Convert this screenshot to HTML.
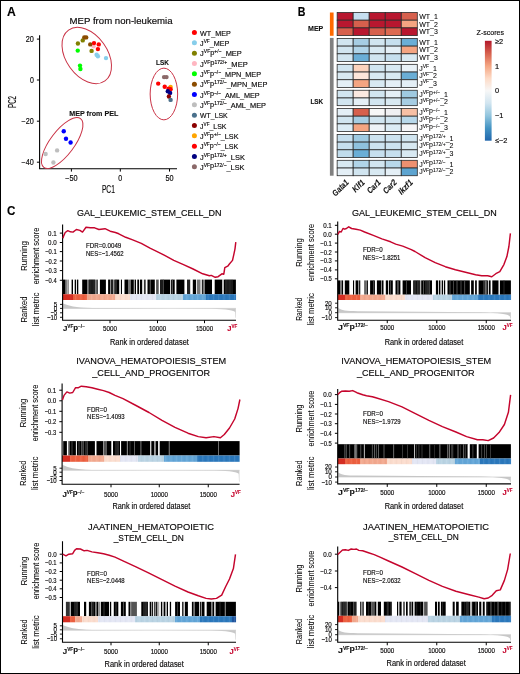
<!DOCTYPE html><html><head><meta charset="utf-8"><style>html,body{margin:0;padding:0;background:#fff;}svg{display:block;will-change:transform;}text{font-family:"Liberation Sans",sans-serif;}</style></head><body><svg width="520" height="674" viewBox="0 0 520 674"><rect x="0.5" y="0.5" width="519" height="673" fill="none" stroke="#000" stroke-width="1"/>
<text x="7.10" y="16.00" font-size="12.2" stroke="#000" stroke-width="0.12" font-weight="bold" fill="#000" textLength="8.80" lengthAdjust="spacingAndGlyphs">A</text>
<text x="69.60" y="24.40" font-size="9.2" stroke="#231f20" stroke-width="0.18" textLength="103.00" lengthAdjust="spacingAndGlyphs">MEP from non-leukemia</text>
<path d="M39.6 35.2 V168.8 H177" fill="none" stroke="#000" stroke-width="1.1"/>
<path d="M36.9 39.1 H39.6" stroke="#000" stroke-width="1"/>
<text x="33.80" y="41.90" font-size="8.2" stroke="#231f20" stroke-width="0.18" text-anchor="end" textLength="8.15" lengthAdjust="spacingAndGlyphs">20</text>
<path d="M36.9 80.0 H39.6" stroke="#000" stroke-width="1"/>
<text x="33.80" y="82.80" font-size="8.2" stroke="#231f20" stroke-width="0.18" text-anchor="end" textLength="3.90" lengthAdjust="spacingAndGlyphs">0</text>
<path d="M36.9 121.2 H39.6" stroke="#000" stroke-width="1"/>
<text x="33.80" y="124.00" font-size="8.2" stroke="#231f20" stroke-width="0.18" text-anchor="end" textLength="12.25" lengthAdjust="spacingAndGlyphs">−20</text>
<path d="M36.9 162.2 H39.6" stroke="#000" stroke-width="1"/>
<text x="33.80" y="165.00" font-size="8.2" stroke="#231f20" stroke-width="0.18" text-anchor="end" textLength="12.25" lengthAdjust="spacingAndGlyphs">−40</text>
<path d="M71.4 168.8 V171.6" stroke="#000" stroke-width="1"/>
<text x="71.40" y="181.30" font-size="8.2" stroke="#231f20" stroke-width="0.18" text-anchor="middle" textLength="12.50" lengthAdjust="spacingAndGlyphs">−50</text>
<path d="M120.3 168.8 V171.6" stroke="#000" stroke-width="1"/>
<text x="120.30" y="181.30" font-size="8.2" stroke="#231f20" stroke-width="0.18" text-anchor="middle" textLength="3.90" lengthAdjust="spacingAndGlyphs">0</text>
<path d="M169.5 168.8 V171.6" stroke="#000" stroke-width="1"/>
<text x="169.50" y="181.30" font-size="8.2" stroke="#231f20" stroke-width="0.18" text-anchor="middle" textLength="8.15" lengthAdjust="spacingAndGlyphs">50</text>
<text x="108.40" y="192.70" font-size="11.0" stroke="#231f20" stroke-width="0.18" text-anchor="middle" textLength="13.00" lengthAdjust="spacingAndGlyphs">PC1</text>
<text x="15.90" y="101.95" font-size="11.0" stroke="#231f20" stroke-width="0.18" text-anchor="middle" textLength="12.00" lengthAdjust="spacingAndGlyphs" transform="rotate(-90 15.90 101.95)">PC2</text>
<ellipse cx="86.75" cy="55.5" rx="31.3" ry="20.6" transform="rotate(54.4 86.75 55.5)" fill="none" stroke="#c93245" stroke-width="1.0"/>
<ellipse cx="62.2" cy="143.0" rx="30.5" ry="12.0" transform="rotate(-53 62.2 143)" fill="none" stroke="#c93245" stroke-width="1.0"/>
<ellipse cx="163.9" cy="94.0" rx="13.75" ry="25.85" fill="none" stroke="#c93245" stroke-width="1.0"/>
<text x="69.30" y="115.80" font-size="7.0" stroke="#111" stroke-width="0.12" font-weight="bold" fill="#111" textLength="49.00" lengthAdjust="spacingAndGlyphs">MEP from PEL</text>
<text x="156.10" y="65.10" font-size="7.0" stroke="#111" stroke-width="0.12" font-weight="bold" fill="#111" textLength="12.80" lengthAdjust="spacingAndGlyphs">LSK</text>
<circle cx="93.6" cy="46.2" r="2.2" fill="#ffb6c1"/>
<circle cx="77.9" cy="43.5" r="2.2" fill="#808000"/>
<circle cx="82.75" cy="40.4" r="2.2" fill="#808000"/>
<circle cx="91.6" cy="50.9" r="2.2" fill="#808000"/>
<circle cx="84.3" cy="37.4" r="2.2" fill="#8b4c00"/>
<circle cx="86.2" cy="37.4" r="2.2" fill="#8b4c00"/>
<circle cx="90.25" cy="44.4" r="2.2" fill="#8b4c00"/>
<circle cx="94.0" cy="43.1" r="2.2" fill="#ff0000"/>
<circle cx="98.75" cy="44.4" r="2.2" fill="#ff0000"/>
<circle cx="97.9" cy="49.1" r="2.2" fill="#ff0000"/>
<circle cx="96.6" cy="54.75" r="2.2" fill="#87ceeb"/>
<circle cx="97.9" cy="56.25" r="2.2" fill="#87ceeb"/>
<circle cx="106.0" cy="58.1" r="2.2" fill="#87ceeb"/>
<circle cx="77.75" cy="50.6" r="2.2" fill="#00ff00"/>
<circle cx="80.0" cy="65.6" r="2.2" fill="#00ff00"/>
<circle cx="80.4" cy="69.0" r="2.2" fill="#00ff00"/>
<circle cx="63.75" cy="131.25" r="2.2" fill="#0000ff"/>
<circle cx="66.0" cy="138.75" r="2.2" fill="#0000ff"/>
<circle cx="70.6" cy="142.5" r="2.2" fill="#0000ff"/>
<circle cx="45.6" cy="154.0" r="2.2" fill="#bebebe"/>
<circle cx="57.1" cy="150.4" r="2.2" fill="#bebebe"/>
<circle cx="53.4" cy="162.5" r="2.2" fill="#bebebe"/>
<circle cx="164.1" cy="77.1" r="2.2" fill="#8b6969"/>
<circle cx="166.5" cy="77.1" r="2.2" fill="#8b6969"/>
<circle cx="158.2" cy="83.6" r="2.2" fill="#ff0000"/>
<circle cx="164.7" cy="86.7" r="2.2" fill="#ff0000"/>
<circle cx="170.6" cy="87.0" r="2.2" fill="#ffa500"/>
<circle cx="168.6" cy="88.7" r="2.2" fill="#ff0000"/>
<circle cx="170.6" cy="89.3" r="2.2" fill="#ff0000"/>
<circle cx="167.8" cy="91.3" r="2.2" fill="#000080"/>
<circle cx="170.1" cy="92.9" r="2.2" fill="#00008b"/>
<circle cx="168.9" cy="96.5" r="2.2" fill="#8b0000"/>
<circle cx="170.6" cy="99.9" r="2.2" fill="#4a708b"/>
<circle cx="194.4" cy="32.50" r="2.5" fill="#ff0000"/>
<text x="200.10" y="35.60" font-size="7.8" stroke="#231f20" stroke-width="0.18" textLength="30.60" lengthAdjust="spacingAndGlyphs">WT_MEP</text>
<circle cx="194.4" cy="42.83" r="2.5" fill="#87ceeb"/>
<text x="200.10" y="45.93" font-size="7.8" stroke="#231f20" stroke-width="0.18" textLength="29.20" lengthAdjust="spacingAndGlyphs">J<tspan dy="-2.9" font-size="5.2">VF</tspan><tspan dy="2.9">_MEP</tspan></text>
<circle cx="194.4" cy="53.16" r="2.5" fill="#808000"/>
<text x="200.10" y="56.26" font-size="7.8" stroke="#231f20" stroke-width="0.18" textLength="41.70" lengthAdjust="spacingAndGlyphs">J<tspan dy="-2.9" font-size="5.2">VF</tspan><tspan dy="1.5">p</tspan><tspan dy="-1.5" font-size="5.2">+/−</tspan><tspan dy="2.9">_MEP</tspan></text>
<circle cx="194.4" cy="63.49" r="2.5" fill="#ffb6c1"/>
<text x="200.10" y="66.59" font-size="7.8" stroke="#231f20" stroke-width="0.18" textLength="47.60" lengthAdjust="spacingAndGlyphs">J<tspan dy="-2.9" font-size="5.2">VF</tspan><tspan dy="1.5">p</tspan><tspan dy="-1.5" font-size="5.2">172/+</tspan><tspan dy="2.9">_MEP</tspan></text>
<circle cx="194.4" cy="73.82" r="2.5" fill="#00ff00"/>
<text x="200.10" y="76.92" font-size="7.8" stroke="#231f20" stroke-width="0.18" textLength="61.00" lengthAdjust="spacingAndGlyphs">J<tspan dy="-2.9" font-size="5.2">VF</tspan><tspan dy="1.5">p</tspan><tspan dy="-1.5" font-size="5.2">−/−</tspan><tspan dy="2.9">_MPN_MEP</tspan></text>
<circle cx="194.4" cy="84.15" r="2.5" fill="#8b4c00"/>
<text x="200.10" y="87.25" font-size="7.8" stroke="#231f20" stroke-width="0.18" textLength="67.30" lengthAdjust="spacingAndGlyphs">J<tspan dy="-2.9" font-size="5.2">VF</tspan><tspan dy="1.5">p</tspan><tspan dy="-1.5" font-size="5.2">172/−</tspan><tspan dy="2.9">_MPN_MEP</tspan></text>
<circle cx="194.4" cy="94.48" r="2.5" fill="#0000ff"/>
<text x="200.10" y="97.58" font-size="7.8" stroke="#231f20" stroke-width="0.18" textLength="59.60" lengthAdjust="spacingAndGlyphs">J<tspan dy="-2.9" font-size="5.2">VF</tspan><tspan dy="1.5">p</tspan><tspan dy="-1.5" font-size="5.2">−/−</tspan><tspan dy="2.9">_AML_MEP</tspan></text>
<circle cx="194.4" cy="104.81" r="2.5" fill="#bebebe"/>
<text x="200.10" y="107.91" font-size="7.8" stroke="#231f20" stroke-width="0.18" textLength="65.90" lengthAdjust="spacingAndGlyphs">J<tspan dy="-2.9" font-size="5.2">VF</tspan><tspan dy="1.5">p</tspan><tspan dy="-1.5" font-size="5.2">172/−</tspan><tspan dy="2.9">_AML_MEP</tspan></text>
<circle cx="194.4" cy="115.14" r="2.5" fill="#4a708b"/>
<text x="200.10" y="118.24" font-size="7.8" stroke="#231f20" stroke-width="0.18" textLength="27.60" lengthAdjust="spacingAndGlyphs">WT_LSK</text>
<circle cx="194.4" cy="125.47" r="2.5" fill="#8b0000"/>
<text x="200.10" y="128.57" font-size="7.8" stroke="#231f20" stroke-width="0.18" textLength="26.30" lengthAdjust="spacingAndGlyphs">J<tspan dy="-2.9" font-size="5.2">VF</tspan><tspan dy="2.9">_LSK</tspan></text>
<circle cx="194.4" cy="135.80" r="2.5" fill="#ffa500"/>
<text x="200.10" y="138.90" font-size="7.8" stroke="#231f20" stroke-width="0.18" textLength="38.40" lengthAdjust="spacingAndGlyphs">J<tspan dy="-2.9" font-size="5.2">VF</tspan><tspan dy="1.5">p</tspan><tspan dy="-1.5" font-size="5.2">+/−</tspan><tspan dy="2.9">_LSK</tspan></text>
<circle cx="194.4" cy="146.13" r="2.5" fill="#ff0000"/>
<text x="200.10" y="149.23" font-size="7.8" stroke="#231f20" stroke-width="0.18" textLength="38.10" lengthAdjust="spacingAndGlyphs">J<tspan dy="-2.9" font-size="5.2">VF</tspan><tspan dy="1.5">p</tspan><tspan dy="-1.5" font-size="5.2">−/−</tspan><tspan dy="2.9">_LSK</tspan></text>
<circle cx="194.4" cy="156.46" r="2.5" fill="#000080"/>
<text x="200.10" y="159.56" font-size="7.8" stroke="#231f20" stroke-width="0.18" textLength="44.80" lengthAdjust="spacingAndGlyphs">J<tspan dy="-2.9" font-size="5.2">VF</tspan><tspan dy="1.5">p</tspan><tspan dy="-1.5" font-size="5.2">172/+</tspan><tspan dy="2.9">_LSK</tspan></text>
<circle cx="194.4" cy="166.79" r="2.5" fill="#8b6969"/>
<text x="200.10" y="169.89" font-size="7.8" stroke="#231f20" stroke-width="0.18" textLength="44.40" lengthAdjust="spacingAndGlyphs">J<tspan dy="-2.9" font-size="5.2">VF</tspan><tspan dy="1.5">p</tspan><tspan dy="-1.5" font-size="5.2">172/−</tspan><tspan dy="2.9">_LSK</tspan></text>
<text x="297.70" y="16.10" font-size="12.4" stroke="#000" stroke-width="0.12" font-weight="bold" fill="#000" textLength="7.70" lengthAdjust="spacingAndGlyphs">B</text>
<rect x="337.15" y="12.50" width="16.03" height="7.70" fill="#b8172f" stroke="#2b2b2b" stroke-width="0.8"/>
<rect x="353.18" y="12.50" width="16.03" height="7.70" fill="#c6dff0" stroke="#2b2b2b" stroke-width="0.8"/>
<rect x="369.21" y="12.50" width="16.03" height="7.70" fill="#b8172f" stroke="#2b2b2b" stroke-width="0.8"/>
<rect x="385.24" y="12.50" width="16.03" height="7.70" fill="#b8172f" stroke="#2b2b2b" stroke-width="0.8"/>
<rect x="401.27" y="12.50" width="16.03" height="7.70" fill="#d6604d" stroke="#2b2b2b" stroke-width="0.8"/>
<text x="419.20" y="18.80" font-size="7.0" stroke="#231f20" stroke-width="0.08">WT_1</text>
<rect x="337.15" y="20.20" width="16.03" height="7.70" fill="#b8172f" stroke="#2b2b2b" stroke-width="0.8"/>
<rect x="353.18" y="20.20" width="16.03" height="7.70" fill="#d6604d" stroke="#2b2b2b" stroke-width="0.8"/>
<rect x="369.21" y="20.20" width="16.03" height="7.70" fill="#b8172f" stroke="#2b2b2b" stroke-width="0.8"/>
<rect x="385.24" y="20.20" width="16.03" height="7.70" fill="#b8172f" stroke="#2b2b2b" stroke-width="0.8"/>
<rect x="401.27" y="20.20" width="16.03" height="7.70" fill="#f4a582" stroke="#2b2b2b" stroke-width="0.8"/>
<text x="419.20" y="26.50" font-size="7.0" stroke="#231f20" stroke-width="0.08">WT_2</text>
<rect x="337.15" y="27.90" width="16.03" height="7.70" fill="#d6604d" stroke="#2b2b2b" stroke-width="0.8"/>
<rect x="353.18" y="27.90" width="16.03" height="7.70" fill="#b8172f" stroke="#2b2b2b" stroke-width="0.8"/>
<rect x="369.21" y="27.90" width="16.03" height="7.70" fill="#d6604d" stroke="#2b2b2b" stroke-width="0.8"/>
<rect x="385.24" y="27.90" width="16.03" height="7.70" fill="#dd6a52" stroke="#2b2b2b" stroke-width="0.8"/>
<rect x="401.27" y="27.90" width="16.03" height="7.70" fill="#b8172f" stroke="#2b2b2b" stroke-width="0.8"/>
<text x="419.20" y="34.20" font-size="7.0" stroke="#231f20" stroke-width="0.08">WT_3</text>
<rect x="337.15" y="38.42" width="16.03" height="7.70" fill="#d1e5f0" stroke="#2b2b2b" stroke-width="0.8"/>
<rect x="353.18" y="38.42" width="16.03" height="7.70" fill="#a6cde3" stroke="#2b2b2b" stroke-width="0.8"/>
<rect x="369.21" y="38.42" width="16.03" height="7.70" fill="#d1e5f0" stroke="#2b2b2b" stroke-width="0.8"/>
<rect x="385.24" y="38.42" width="16.03" height="7.70" fill="#c6dfee" stroke="#2b2b2b" stroke-width="0.8"/>
<rect x="401.27" y="38.42" width="16.03" height="7.70" fill="#6aaed6" stroke="#2b2b2b" stroke-width="0.8"/>
<text x="419.20" y="44.72" font-size="7.0" stroke="#231f20" stroke-width="0.08">WT_1</text>
<rect x="337.15" y="46.12" width="16.03" height="7.70" fill="#d1e5f0" stroke="#2b2b2b" stroke-width="0.8"/>
<rect x="353.18" y="46.12" width="16.03" height="7.70" fill="#b0d4e8" stroke="#2b2b2b" stroke-width="0.8"/>
<rect x="369.21" y="46.12" width="16.03" height="7.70" fill="#d8e9f2" stroke="#2b2b2b" stroke-width="0.8"/>
<rect x="385.24" y="46.12" width="16.03" height="7.70" fill="#e4eff6" stroke="#2b2b2b" stroke-width="0.8"/>
<rect x="401.27" y="46.12" width="16.03" height="7.70" fill="#f4a582" stroke="#2b2b2b" stroke-width="0.8"/>
<text x="419.20" y="52.42" font-size="7.0" stroke="#231f20" stroke-width="0.08">WT_2</text>
<rect x="337.15" y="53.82" width="16.03" height="7.70" fill="#d1e5f0" stroke="#2b2b2b" stroke-width="0.8"/>
<rect x="353.18" y="53.82" width="16.03" height="7.70" fill="#6aaed6" stroke="#2b2b2b" stroke-width="0.8"/>
<rect x="369.21" y="53.82" width="16.03" height="7.70" fill="#d1e5f0" stroke="#2b2b2b" stroke-width="0.8"/>
<rect x="385.24" y="53.82" width="16.03" height="7.70" fill="#c6dfee" stroke="#2b2b2b" stroke-width="0.8"/>
<rect x="401.27" y="53.82" width="16.03" height="7.70" fill="#d8e9f2" stroke="#2b2b2b" stroke-width="0.8"/>
<text x="419.20" y="60.12" font-size="7.0" stroke="#231f20" stroke-width="0.08">WT_3</text>
<rect x="337.15" y="64.34" width="16.03" height="7.70" fill="#d1e5f0" stroke="#2b2b2b" stroke-width="0.8"/>
<rect x="353.18" y="64.34" width="16.03" height="7.70" fill="#fbd3bd" stroke="#2b2b2b" stroke-width="0.8"/>
<rect x="369.21" y="64.34" width="16.03" height="7.70" fill="#d1e5f0" stroke="#2b2b2b" stroke-width="0.8"/>
<rect x="385.24" y="64.34" width="16.03" height="7.70" fill="#d8e9f2" stroke="#2b2b2b" stroke-width="0.8"/>
<rect x="401.27" y="64.34" width="16.03" height="7.70" fill="#e8f1f7" stroke="#2b2b2b" stroke-width="0.8"/>
<text x="419.20" y="70.64" font-size="7.0" stroke="#231f20" stroke-width="0.08">J<tspan dy="-2.6" font-size="5.0">VF</tspan><tspan dy="2.6">_1</tspan></text>
<rect x="337.15" y="72.04" width="16.03" height="7.70" fill="#d8e9f2" stroke="#2b2b2b" stroke-width="0.8"/>
<rect x="353.18" y="72.04" width="16.03" height="7.70" fill="#fde6da" stroke="#2b2b2b" stroke-width="0.8"/>
<rect x="369.21" y="72.04" width="16.03" height="7.70" fill="#d8e9f2" stroke="#2b2b2b" stroke-width="0.8"/>
<rect x="385.24" y="72.04" width="16.03" height="7.70" fill="#d8e9f2" stroke="#2b2b2b" stroke-width="0.8"/>
<rect x="401.27" y="72.04" width="16.03" height="7.70" fill="#6aaed6" stroke="#2b2b2b" stroke-width="0.8"/>
<text x="419.20" y="78.34" font-size="7.0" stroke="#231f20" stroke-width="0.08">J<tspan dy="-2.6" font-size="5.0">VF</tspan><tspan dy="2.6">_2</tspan></text>
<rect x="337.15" y="79.74" width="16.03" height="7.70" fill="#e4eff6" stroke="#2b2b2b" stroke-width="0.8"/>
<rect x="353.18" y="79.74" width="16.03" height="7.70" fill="#f4a582" stroke="#2b2b2b" stroke-width="0.8"/>
<rect x="369.21" y="79.74" width="16.03" height="7.70" fill="#d8e9f2" stroke="#2b2b2b" stroke-width="0.8"/>
<rect x="385.24" y="79.74" width="16.03" height="7.70" fill="#e4eff6" stroke="#2b2b2b" stroke-width="0.8"/>
<rect x="401.27" y="79.74" width="16.03" height="7.70" fill="#e4eff6" stroke="#2b2b2b" stroke-width="0.8"/>
<text x="419.20" y="86.04" font-size="7.0" stroke="#231f20" stroke-width="0.08">J<tspan dy="-2.6" font-size="5.0">VF</tspan><tspan dy="2.6">_3</tspan></text>
<rect x="337.15" y="90.26" width="16.03" height="7.70" fill="#d1e5f0" stroke="#2b2b2b" stroke-width="0.8"/>
<rect x="353.18" y="90.26" width="16.03" height="7.70" fill="#fbe9e1" stroke="#2b2b2b" stroke-width="0.8"/>
<rect x="369.21" y="90.26" width="16.03" height="7.70" fill="#d1e5f0" stroke="#2b2b2b" stroke-width="0.8"/>
<rect x="385.24" y="90.26" width="16.03" height="7.70" fill="#e4eff6" stroke="#2b2b2b" stroke-width="0.8"/>
<rect x="401.27" y="90.26" width="16.03" height="7.70" fill="#9fcae1" stroke="#2b2b2b" stroke-width="0.8"/>
<text x="419.20" y="96.56" font-size="7.0" stroke="#231f20" stroke-width="0.08">J<tspan dy="-2.6" font-size="5.0">VF</tspan><tspan dy="1.3">p</tspan><tspan dy="-1.3" font-size="5.0">+/−</tspan><tspan dy="2.6">_1</tspan></text>
<rect x="337.15" y="97.96" width="16.03" height="7.70" fill="#d1e5f0" stroke="#2b2b2b" stroke-width="0.8"/>
<rect x="353.18" y="97.96" width="16.03" height="7.70" fill="#e4eff6" stroke="#2b2b2b" stroke-width="0.8"/>
<rect x="369.21" y="97.96" width="16.03" height="7.70" fill="#d1e5f0" stroke="#2b2b2b" stroke-width="0.8"/>
<rect x="385.24" y="97.96" width="16.03" height="7.70" fill="#d8e9f2" stroke="#2b2b2b" stroke-width="0.8"/>
<rect x="401.27" y="97.96" width="16.03" height="7.70" fill="#a6cde3" stroke="#2b2b2b" stroke-width="0.8"/>
<text x="419.20" y="104.26" font-size="7.0" stroke="#231f20" stroke-width="0.08">J<tspan dy="-2.6" font-size="5.0">VF</tspan><tspan dy="1.3">p</tspan><tspan dy="-1.3" font-size="5.0">+/−</tspan><tspan dy="2.6">_2</tspan></text>
<rect x="337.15" y="108.48" width="16.03" height="7.70" fill="#e4eff6" stroke="#2b2b2b" stroke-width="0.8"/>
<rect x="353.18" y="108.48" width="16.03" height="7.70" fill="#d6604d" stroke="#2b2b2b" stroke-width="0.8"/>
<rect x="369.21" y="108.48" width="16.03" height="7.70" fill="#f7f7f7" stroke="#2b2b2b" stroke-width="0.8"/>
<rect x="385.24" y="108.48" width="16.03" height="7.70" fill="#f0f0f2" stroke="#2b2b2b" stroke-width="0.8"/>
<rect x="401.27" y="108.48" width="16.03" height="7.70" fill="#f7c0a5" stroke="#2b2b2b" stroke-width="0.8"/>
<text x="419.20" y="114.78" font-size="7.0" stroke="#231f20" stroke-width="0.08">J<tspan dy="-2.6" font-size="5.0">VF</tspan><tspan dy="1.3">p</tspan><tspan dy="-1.3" font-size="5.0">−/−</tspan><tspan dy="2.6">_1</tspan></text>
<rect x="337.15" y="116.18" width="16.03" height="7.70" fill="#d1e5f0" stroke="#2b2b2b" stroke-width="0.8"/>
<rect x="353.18" y="116.18" width="16.03" height="7.70" fill="#a6cde3" stroke="#2b2b2b" stroke-width="0.8"/>
<rect x="369.21" y="116.18" width="16.03" height="7.70" fill="#d1e5f0" stroke="#2b2b2b" stroke-width="0.8"/>
<rect x="385.24" y="116.18" width="16.03" height="7.70" fill="#d1e5f0" stroke="#2b2b2b" stroke-width="0.8"/>
<rect x="401.27" y="116.18" width="16.03" height="7.70" fill="#b8d8ea" stroke="#2b2b2b" stroke-width="0.8"/>
<text x="419.20" y="122.48" font-size="7.0" stroke="#231f20" stroke-width="0.08">J<tspan dy="-2.6" font-size="5.0">VF</tspan><tspan dy="1.3">p</tspan><tspan dy="-1.3" font-size="5.0">−/−</tspan><tspan dy="2.6">_2</tspan></text>
<rect x="337.15" y="123.88" width="16.03" height="7.70" fill="#dcecf5" stroke="#2b2b2b" stroke-width="0.8"/>
<rect x="353.18" y="123.88" width="16.03" height="7.70" fill="#f4a582" stroke="#2b2b2b" stroke-width="0.8"/>
<rect x="369.21" y="123.88" width="16.03" height="7.70" fill="#eef3f7" stroke="#2b2b2b" stroke-width="0.8"/>
<rect x="385.24" y="123.88" width="16.03" height="7.70" fill="#dcecf5" stroke="#2b2b2b" stroke-width="0.8"/>
<rect x="401.27" y="123.88" width="16.03" height="7.70" fill="#f5f5f7" stroke="#2b2b2b" stroke-width="0.8"/>
<text x="419.20" y="130.18" font-size="7.0" stroke="#231f20" stroke-width="0.08">J<tspan dy="-2.6" font-size="5.0">VF</tspan><tspan dy="1.3">p</tspan><tspan dy="-1.3" font-size="5.0">−/−</tspan><tspan dy="2.6">_3</tspan></text>
<rect x="337.15" y="134.40" width="16.03" height="7.70" fill="#c6dfee" stroke="#2b2b2b" stroke-width="0.8"/>
<rect x="353.18" y="134.40" width="16.03" height="7.70" fill="#9fcae1" stroke="#2b2b2b" stroke-width="0.8"/>
<rect x="369.21" y="134.40" width="16.03" height="7.70" fill="#cde3f0" stroke="#2b2b2b" stroke-width="0.8"/>
<rect x="385.24" y="134.40" width="16.03" height="7.70" fill="#cde3f0" stroke="#2b2b2b" stroke-width="0.8"/>
<rect x="401.27" y="134.40" width="16.03" height="7.70" fill="#d1e5f0" stroke="#2b2b2b" stroke-width="0.8"/>
<text x="419.20" y="140.70" font-size="7.0" stroke="#231f20" stroke-width="0.08">J<tspan dy="-2.6" font-size="5.0">VF</tspan><tspan dy="1.3">p</tspan><tspan dy="-1.3" font-size="5.0">172/+</tspan><tspan dy="2.6">_1</tspan></text>
<rect x="337.15" y="142.10" width="16.03" height="7.70" fill="#c6dfee" stroke="#2b2b2b" stroke-width="0.8"/>
<rect x="353.18" y="142.10" width="16.03" height="7.70" fill="#8fc2de" stroke="#2b2b2b" stroke-width="0.8"/>
<rect x="369.21" y="142.10" width="16.03" height="7.70" fill="#cde3f0" stroke="#2b2b2b" stroke-width="0.8"/>
<rect x="385.24" y="142.10" width="16.03" height="7.70" fill="#cde3f0" stroke="#2b2b2b" stroke-width="0.8"/>
<rect x="401.27" y="142.10" width="16.03" height="7.70" fill="#d8e9f2" stroke="#2b2b2b" stroke-width="0.8"/>
<text x="419.20" y="148.40" font-size="7.0" stroke="#231f20" stroke-width="0.08">J<tspan dy="-2.6" font-size="5.0">VF</tspan><tspan dy="1.3">p</tspan><tspan dy="-1.3" font-size="5.0">172/+</tspan><tspan dy="2.6">_2</tspan></text>
<rect x="337.15" y="149.80" width="16.03" height="7.70" fill="#c0dcec" stroke="#2b2b2b" stroke-width="0.8"/>
<rect x="353.18" y="149.80" width="16.03" height="7.70" fill="#6aaed6" stroke="#2b2b2b" stroke-width="0.8"/>
<rect x="369.21" y="149.80" width="16.03" height="7.70" fill="#c6dfee" stroke="#2b2b2b" stroke-width="0.8"/>
<rect x="385.24" y="149.80" width="16.03" height="7.70" fill="#c6dfee" stroke="#2b2b2b" stroke-width="0.8"/>
<rect x="401.27" y="149.80" width="16.03" height="7.70" fill="#d8e9f2" stroke="#2b2b2b" stroke-width="0.8"/>
<text x="419.20" y="156.10" font-size="7.0" stroke="#231f20" stroke-width="0.08">J<tspan dy="-2.6" font-size="5.0">VF</tspan><tspan dy="1.3">p</tspan><tspan dy="-1.3" font-size="5.0">172/+</tspan><tspan dy="2.6">_3</tspan></text>
<rect x="337.15" y="160.32" width="16.03" height="7.70" fill="#d8e9f2" stroke="#2b2b2b" stroke-width="0.8"/>
<rect x="353.18" y="160.32" width="16.03" height="7.70" fill="#b0d4e8" stroke="#2b2b2b" stroke-width="0.8"/>
<rect x="369.21" y="160.32" width="16.03" height="7.70" fill="#d1e5f0" stroke="#2b2b2b" stroke-width="0.8"/>
<rect x="385.24" y="160.32" width="16.03" height="7.70" fill="#b8d8ea" stroke="#2b2b2b" stroke-width="0.8"/>
<rect x="401.27" y="160.32" width="16.03" height="7.70" fill="#ee9070" stroke="#2b2b2b" stroke-width="0.8"/>
<text x="419.20" y="166.62" font-size="7.0" stroke="#231f20" stroke-width="0.08">J<tspan dy="-2.6" font-size="5.0">VF</tspan><tspan dy="1.3">p</tspan><tspan dy="-1.3" font-size="5.0">172/−</tspan><tspan dy="2.6">_1</tspan></text>
<rect x="337.15" y="168.02" width="16.03" height="7.70" fill="#e4eff6" stroke="#2b2b2b" stroke-width="0.8"/>
<rect x="353.18" y="168.02" width="16.03" height="7.70" fill="#d1e5f0" stroke="#2b2b2b" stroke-width="0.8"/>
<rect x="369.21" y="168.02" width="16.03" height="7.70" fill="#d8e9f2" stroke="#2b2b2b" stroke-width="0.8"/>
<rect x="385.24" y="168.02" width="16.03" height="7.70" fill="#e4eff6" stroke="#2b2b2b" stroke-width="0.8"/>
<rect x="401.27" y="168.02" width="16.03" height="7.70" fill="#5da4d0" stroke="#2b2b2b" stroke-width="0.8"/>
<text x="419.20" y="174.32" font-size="7.0" stroke="#231f20" stroke-width="0.08">J<tspan dy="-2.6" font-size="5.0">VF</tspan><tspan dy="1.3">p</tspan><tspan dy="-1.3" font-size="5.0">172/−</tspan><tspan dy="2.6">_2</tspan></text>
<rect x="329.9" y="12.5" width="3.7" height="23.3" fill="#ff6a00"/>
<rect x="329.9" y="37.9" width="3.7" height="137.82" fill="#808080"/>
<text x="308.00" y="30.90" font-size="7.7" stroke="#111" stroke-width="0.12" font-weight="bold" fill="#111" textLength="15.30" lengthAdjust="spacingAndGlyphs">MEP</text>
<text x="310.40" y="104.00" font-size="7.7" stroke="#111" stroke-width="0.12" font-weight="bold" fill="#111" textLength="12.70" lengthAdjust="spacingAndGlyphs">LSK</text>
<text x="349.26" y="183.00" font-size="8.5" stroke="#111" stroke-width="0.12" font-weight="bold" text-anchor="end" fill="#111" textLength="19.30" lengthAdjust="spacingAndGlyphs" font-style="italic" transform="rotate(-45 349.26 183.00)">Gata1</text>
<text x="365.29" y="183.00" font-size="8.5" stroke="#111" stroke-width="0.12" font-weight="bold" text-anchor="end" fill="#111" textLength="13.80" lengthAdjust="spacingAndGlyphs" font-style="italic" transform="rotate(-45 365.29 183.00)">Klf1</text>
<text x="381.32" y="183.00" font-size="8.5" stroke="#111" stroke-width="0.12" font-weight="bold" text-anchor="end" fill="#111" textLength="15.60" lengthAdjust="spacingAndGlyphs" font-style="italic" transform="rotate(-45 381.32 183.00)">Car1</text>
<text x="397.36" y="183.00" font-size="8.5" stroke="#111" stroke-width="0.12" font-weight="bold" text-anchor="end" fill="#111" textLength="15.80" lengthAdjust="spacingAndGlyphs" font-style="italic" transform="rotate(-45 397.36 183.00)">Car2</text>
<text x="413.38" y="183.00" font-size="8.5" stroke="#111" stroke-width="0.12" font-weight="bold" text-anchor="end" fill="#111" textLength="16.90" lengthAdjust="spacingAndGlyphs" font-style="italic" transform="rotate(-45 413.38 183.00)">Ikzf1</text>
<defs><linearGradient id="zs" x1="0" y1="0" x2="0" y2="1"><stop offset="0" stop-color="#b2182b"/><stop offset="0.125" stop-color="#d6604d"/><stop offset="0.25" stop-color="#f4a582"/><stop offset="0.375" stop-color="#fddbc7"/><stop offset="0.5" stop-color="#f7f7f7"/><stop offset="0.625" stop-color="#d1e5f0"/><stop offset="0.75" stop-color="#92c5de"/><stop offset="0.875" stop-color="#4393c3"/><stop offset="1" stop-color="#2166ac"/></linearGradient></defs>
<rect x="484.9" y="40.8" width="6.7" height="99.9" fill="url(#zs)"/>
<text x="490.30" y="34.90" font-size="7.2" stroke="#231f20" stroke-width="0.18" text-anchor="middle" textLength="27.40" lengthAdjust="spacingAndGlyphs">Z-scores</text>
<text x="494.90" y="43.80" font-size="7.4" stroke="#231f20" stroke-width="0.18">≥2</text>
<text x="494.90" y="68.60" font-size="7.4" stroke="#231f20" stroke-width="0.18">1</text>
<text x="494.90" y="93.10" font-size="7.4" stroke="#231f20" stroke-width="0.18">0</text>
<text x="494.90" y="117.80" font-size="7.4" stroke="#231f20" stroke-width="0.18">−1</text>
<text x="494.90" y="142.90" font-size="7.4" stroke="#231f20" stroke-width="0.18">≤−2</text>
<defs><pattern id="cbs" patternUnits="userSpaceOnUse" width="5.3" height="10"><rect x="1.2" width="0.7" height="10" fill="#fff" fill-opacity="0.16"/><rect x="3.6" width="0.6" height="10" fill="#000" fill-opacity="0.04"/></pattern></defs>
<defs><pattern id="bcp" patternUnits="userSpaceOnUse" width="3.7" height="10"><rect width="3.7" height="10" fill="#000"/><rect x="2.2" width="0.6" height="10" fill="#3a3a3a"/></pattern></defs>
<text x="6.90" y="215.30" font-size="12.4" stroke="#000" stroke-width="0.12" font-weight="bold" fill="#000" textLength="8.40" lengthAdjust="spacingAndGlyphs">C</text>
<rect x="62.80" y="279.60" width="2.20" height="14.60" fill="#000"/>
<rect x="65.40" y="279.60" width="1.10" height="14.60" fill="#000"/>
<rect x="67.60" y="279.60" width="0.90" height="14.60" fill="#333"/>
<rect x="71.60" y="279.60" width="1.40" height="14.60" fill="#000"/>
<rect x="74.70" y="279.60" width="1.30" height="14.60" fill="#000"/>
<rect x="76.90" y="279.60" width="1.40" height="14.60" fill="#000"/>
<rect x="82.20" y="279.60" width="5.30" height="14.60" fill="#000"/>
<rect x="88.40" y="279.60" width="7.10" height="14.60" fill="#000"/>
<rect x="96.40" y="279.60" width="1.30" height="14.60" fill="#000"/>
<rect x="99.90" y="279.60" width="6.00" height="14.60" fill="#000"/>
<rect x="108.10" y="279.60" width="2.20" height="14.60" fill="#000"/>
<rect x="110.80" y="279.60" width="2.60" height="14.60" fill="#000"/>
<rect x="114.30" y="279.60" width="4.90" height="14.60" fill="#000"/>
<rect x="120.90" y="279.60" width="1.10" height="14.60" fill="#000"/>
<rect x="124.50" y="279.60" width="3.50" height="14.60" fill="#000"/>
<rect x="128.00" y="279.60" width="2.70" height="14.60" fill="#777"/>
<rect x="130.70" y="279.60" width="3.10" height="14.60" fill="#000"/>
<rect x="134.60" y="279.60" width="1.40" height="14.60" fill="#000"/>
<rect x="137.30" y="279.60" width="1.80" height="14.60" fill="#000"/>
<rect x="140.00" y="279.60" width="2.20" height="14.60" fill="#000"/>
<rect x="143.90" y="279.60" width="1.80" height="14.60" fill="#333"/>
<rect x="147.50" y="279.60" width="2.40" height="14.60" fill="#000"/>
<rect x="150.30" y="279.60" width="4.50" height="14.60" fill="#000"/>
<rect x="156.10" y="279.60" width="2.60" height="14.60" fill="#555"/>
<rect x="160.10" y="279.60" width="10.10" height="14.60" fill="#000"/>
<rect x="171.10" y="279.60" width="3.60" height="14.60" fill="#000"/>
<rect x="176.40" y="279.60" width="8.00" height="14.60" fill="#000"/>
<rect x="187.00" y="279.60" width="3.20" height="14.60" fill="#222"/>
<rect x="192.80" y="279.60" width="3.30" height="14.60" fill="#000"/>
<rect x="197.00" y="279.60" width="3.50" height="14.60" fill="#777"/>
<rect x="201.80" y="279.60" width="1.80" height="14.60" fill="#222"/>
<rect x="204.50" y="279.60" width="7.50" height="14.60" fill="#000"/>
<rect x="214.70" y="279.60" width="7.50" height="14.60" fill="#000"/>
<rect x="222.20" y="279.60" width="1.80" height="14.60" fill="#bbb"/>
<rect x="224.00" y="279.60" width="11.90" height="14.60" fill="#000"/>
<rect x="89.60" y="279.60" width="0.8" height="14.60" fill="#555"/>
<rect x="91.60" y="279.60" width="0.8" height="14.60" fill="#444"/>
<rect x="93.60" y="279.60" width="0.8" height="14.60" fill="#555"/>
<rect x="111.60" y="279.60" width="0.8" height="14.60" fill="#555"/>
<rect x="115.60" y="279.60" width="0.8" height="14.60" fill="#666"/>
<rect x="161.60" y="279.60" width="0.8" height="14.60" fill="#444"/>
<rect x="163.10" y="279.60" width="0.8" height="14.60" fill="#555"/>
<rect x="172.10" y="279.60" width="0.8" height="14.60" fill="#666"/>
<rect x="225.60" y="279.60" width="0.8" height="14.60" fill="#555"/>
<rect x="227.60" y="279.60" width="0.8" height="14.60" fill="#444"/>
<rect x="229.60" y="279.60" width="0.8" height="14.60" fill="#555"/>
<rect x="231.60" y="279.60" width="0.8" height="14.60" fill="#444"/>
<rect x="62.60" y="294.20" width="10.45" height="5.80" fill="#d42d22"/>
<rect x="73.00" y="294.20" width="14.05" height="5.80" fill="#ec5f3f"/>
<rect x="87.00" y="294.20" width="28.05" height="5.80" fill="#f2a88e"/>
<rect x="115.00" y="294.20" width="15.05" height="5.80" fill="#fbdccd"/>
<rect x="130.00" y="294.20" width="26.05" height="5.80" fill="#e3e6f4"/>
<rect x="156.00" y="294.20" width="27.05" height="5.80" fill="#b9d3e3"/>
<rect x="183.00" y="294.20" width="23.05" height="5.80" fill="#62a5d7"/>
<rect x="206.00" y="294.20" width="30.05" height="5.80" fill="#2b78bc"/>
<rect x="70.60" y="294.20" width="165.40" height="5.80" fill="url(#cbs)"/>
<path d="M63.10 308.40 L63.10 303.60 C68.60 305.80 74.60 307.70 92.60 308.10 L211.00 308.70 C228.00 309.20 234.00 310.40 235.10 311.90 L235.40 317.70 L235.80 317.70 L235.80 308.40 Z" fill="#c8c8c8"/>
<path d="M62.60 308.40 H236.00" stroke="#c4c4c4" stroke-width="0.6"/>
<path d="M62.60 224.40 V320.20 H236.00" fill="none" stroke="#000" stroke-width="1.1"/>
<path d="M59.80 233.10 H62.60" stroke="#000" stroke-width="1"/>
<text x="56.70" y="235.60" font-size="7.4" stroke="#231f20" stroke-width="0.18" text-anchor="end" textLength="8.60" lengthAdjust="spacingAndGlyphs">0.1</text>
<path d="M59.80 242.50 H62.60" stroke="#000" stroke-width="1"/>
<text x="56.70" y="245.00" font-size="7.4" stroke="#231f20" stroke-width="0.18" text-anchor="end" textLength="8.60" lengthAdjust="spacingAndGlyphs">0.0</text>
<path d="M59.80 251.60 H62.60" stroke="#000" stroke-width="1"/>
<text x="56.70" y="254.10" font-size="7.4" stroke="#231f20" stroke-width="0.18" text-anchor="end" textLength="11.50" lengthAdjust="spacingAndGlyphs">−0.1</text>
<path d="M59.80 261.00 H62.60" stroke="#000" stroke-width="1"/>
<text x="56.70" y="263.50" font-size="7.4" stroke="#231f20" stroke-width="0.18" text-anchor="end" textLength="11.50" lengthAdjust="spacingAndGlyphs">−0.2</text>
<path d="M59.80 270.60 H62.60" stroke="#000" stroke-width="1"/>
<text x="56.70" y="273.10" font-size="7.4" stroke="#231f20" stroke-width="0.18" text-anchor="end" textLength="11.50" lengthAdjust="spacingAndGlyphs">−0.3</text>
<path d="M59.80 280.30 H62.60" stroke="#000" stroke-width="1"/>
<text x="56.70" y="282.80" font-size="7.4" stroke="#231f20" stroke-width="0.18" text-anchor="end" textLength="11.50" lengthAdjust="spacingAndGlyphs">−0.4</text>
<path d="M60.00 304.40 H62.60" stroke="#000" stroke-width="0.9"/>
<path d="M60.00 308.40 H62.60" stroke="#000" stroke-width="0.9"/>
<path d="M60.00 312.80 H62.60" stroke="#000" stroke-width="0.9"/>
<path d="M60.00 317.30 H62.60" stroke="#000" stroke-width="0.9"/>
<text x="57.10" y="306.80" font-size="7.0" stroke="#231f20" stroke-width="0.18" text-anchor="end" textLength="3.40" lengthAdjust="spacingAndGlyphs">5</text>
<text x="57.10" y="310.80" font-size="7.0" stroke="#231f20" stroke-width="0.18" text-anchor="end" textLength="3.40" lengthAdjust="spacingAndGlyphs">0</text>
<text x="57.10" y="315.20" font-size="7.0" stroke="#231f20" stroke-width="0.18" text-anchor="end" textLength="6.60" lengthAdjust="spacingAndGlyphs">−5</text>
<text x="57.10" y="319.70" font-size="7.0" stroke="#231f20" stroke-width="0.18" text-anchor="end" textLength="10.20" lengthAdjust="spacingAndGlyphs">−10</text>
<path d="M110.00 320.20 V323.20" stroke="#000" stroke-width="1"/>
<text x="110.00" y="331.40" font-size="7.3" stroke="#231f20" stroke-width="0.18" text-anchor="middle" textLength="14.00" lengthAdjust="spacingAndGlyphs">5000</text>
<path d="M157.50 320.20 V323.20" stroke="#000" stroke-width="1"/>
<text x="157.50" y="331.40" font-size="7.3" stroke="#231f20" stroke-width="0.18" text-anchor="middle" textLength="17.20" lengthAdjust="spacingAndGlyphs">10000</text>
<path d="M204.50 320.20 V323.20" stroke="#000" stroke-width="1"/>
<text x="204.50" y="331.40" font-size="7.3" stroke="#231f20" stroke-width="0.18" text-anchor="middle" textLength="17.20" lengthAdjust="spacingAndGlyphs">15000</text>
<text x="62.90" y="331.40" font-size="7.8" stroke="#111" stroke-width="0.12" font-weight="bold" fill="#111" textLength="22.00" lengthAdjust="spacingAndGlyphs">J<tspan dy="-3.0" font-size="4.6">VF</tspan><tspan dy="1.3">p</tspan><tspan dy="-1.3" font-size="4.6">−/−</tspan></text>
<text x="237.30" y="331.40" font-size="7.8" stroke="#c5052d" stroke-width="0.12" font-weight="bold" text-anchor="end" fill="#c5052d" textLength="10.00" lengthAdjust="spacingAndGlyphs">J<tspan dy="-3.0" font-size="4.6">VF</tspan></text>
<text x="110.00" y="345.00" font-size="9.6" stroke="#231f20" stroke-width="0.18" textLength="78.80" lengthAdjust="spacingAndGlyphs">Rank in ordered dataset</text>
<text x="76.90" y="216.20" font-size="9.7" stroke="#231f20" stroke-width="0.18" textLength="144.60" lengthAdjust="spacingAndGlyphs">GAL_LEUKEMIC_STEM_CELL_DN</text>
<text x="26.70" y="256.00" font-size="9.7" stroke="#231f20" stroke-width="0.06" text-anchor="middle" textLength="30.00" lengthAdjust="spacingAndGlyphs" transform="rotate(-90 26.70 256.00)">Running</text>
<text x="38.70" y="256.00" font-size="9.7" stroke="#231f20" stroke-width="0.06" text-anchor="middle" textLength="56.50" lengthAdjust="spacingAndGlyphs" transform="rotate(-90 38.70 256.00)">enrichment score</text>
<text x="26.70" y="309.50" font-size="9.7" stroke="#231f20" stroke-width="0.06" text-anchor="middle" textLength="26.00" lengthAdjust="spacingAndGlyphs" transform="rotate(-90 26.70 309.50)">Ranked</text>
<text x="38.70" y="309.50" font-size="9.7" stroke="#231f20" stroke-width="0.06" text-anchor="middle" textLength="33.80" lengthAdjust="spacingAndGlyphs" transform="rotate(-90 38.70 309.50)">list metric</text>
<text x="86.00" y="247.70" font-size="7.2" stroke="#231f20" stroke-width="0.18" textLength="35.28" lengthAdjust="spacingAndGlyphs">FDR=0.0049</text>
<text x="86.00" y="255.80" font-size="7.2" stroke="#231f20" stroke-width="0.18" textLength="37.55" lengthAdjust="spacingAndGlyphs">NES=−1.4562</text>
<polyline points="62.90,238.20 63.80,235.60 65.20,232.50 67.80,230.70 70.40,231.80 73.00,232.10 76.40,229.50 79.90,230.40 82.50,232.10 86.00,227.30 90.30,227.80 94.60,227.80 98.90,229.50 105.00,228.70 110.20,231.20 115.40,232.50 118.80,233.80 125.70,237.30 132.70,239.90 141.30,243.40 150.00,248.20 154.60,250.40 164.20,255.20 173.80,260.40 183.50,264.60 193.10,269.00 202.70,273.80 209.40,275.80 211.30,275.40 215.20,277.30 218.10,276.70 221.90,273.80 223.80,274.20 224.80,267.70 227.70,266.20 229.60,263.80 232.50,260.40 233.80,254.60 235.00,248.80 235.80,242.10" fill="none" stroke="#c5052d" stroke-width="1.45" stroke-linejoin="round"/>
<rect x="63.20" y="441.10" width="3.70" height="14.40" fill="#000"/>
<rect x="68.30" y="441.10" width="1.40" height="14.40" fill="#444"/>
<rect x="69.70" y="441.10" width="6.20" height="14.40" fill="#000"/>
<rect x="76.90" y="441.10" width="4.30" height="14.40" fill="#000"/>
<rect x="81.20" y="441.10" width="2.60" height="14.40" fill="#333"/>
<rect x="83.80" y="441.10" width="11.10" height="14.40" fill="#000"/>
<rect x="96.50" y="441.10" width="6.90" height="14.40" fill="#000"/>
<rect x="103.90" y="441.10" width="2.70" height="14.40" fill="#555"/>
<rect x="106.60" y="441.10" width="4.70" height="14.40" fill="#000"/>
<rect x="113.00" y="441.10" width="7.00" height="14.40" fill="#000"/>
<rect x="121.10" y="441.10" width="5.80" height="14.40" fill="#000"/>
<rect x="127.50" y="441.10" width="13.20" height="14.40" fill="#000"/>
<rect x="141.20" y="441.10" width="9.00" height="14.40" fill="#000"/>
<rect x="151.30" y="441.10" width="3.10" height="14.40" fill="#000"/>
<rect x="155.50" y="441.10" width="2.60" height="14.40" fill="#000"/>
<rect x="159.70" y="441.10" width="79.90" height="14.40" fill="#000"/>
<rect x="71.60" y="441.10" width="0.8" height="14.40" fill="#555"/>
<rect x="78.60" y="441.10" width="0.8" height="14.40" fill="#555"/>
<rect x="85.60" y="441.10" width="0.8" height="14.40" fill="#666"/>
<rect x="87.10" y="441.10" width="0.8" height="14.40" fill="#555"/>
<rect x="115.60" y="441.10" width="0.8" height="14.40" fill="#555"/>
<rect x="117.60" y="441.10" width="0.8" height="14.40" fill="#666"/>
<rect x="129.60" y="441.10" width="0.8" height="14.40" fill="#444"/>
<rect x="134.10" y="441.10" width="0.8" height="14.40" fill="#777"/>
<rect x="168.80" y="441.10" width="0.8" height="14.40" fill="#aaa"/>
<rect x="218.20" y="441.10" width="0.8" height="14.40" fill="#888"/>
<rect x="62.10" y="455.50" width="7.95" height="6.30" fill="#d42d22"/>
<rect x="70.00" y="455.50" width="18.05" height="6.30" fill="#ec5f3f"/>
<rect x="88.00" y="455.50" width="16.05" height="6.30" fill="#f2a88e"/>
<rect x="104.00" y="455.50" width="16.05" height="6.30" fill="#fbdccd"/>
<rect x="120.00" y="455.50" width="18.05" height="6.30" fill="#e3e6f4"/>
<rect x="138.00" y="455.50" width="26.05" height="6.30" fill="#b9d3e3"/>
<rect x="164.00" y="455.50" width="33.05" height="6.30" fill="#62a5d7"/>
<rect x="197.00" y="455.50" width="42.65" height="6.30" fill="#2b78bc"/>
<rect x="70.10" y="455.50" width="169.50" height="6.30" fill="url(#cbs)"/>
<path d="M62.60 470.30 L62.60 465.00 C68.10 467.20 74.10 469.60 92.10 470.00 L214.60 470.60 C231.60 471.10 237.60 472.30 238.70 473.80 L239.00 481.80 L239.40 481.80 L239.40 470.30 Z" fill="#c8c8c8"/>
<path d="M62.10 470.30 H239.60" stroke="#c4c4c4" stroke-width="0.6"/>
<path d="M62.10 383.50 V484.30 H239.60" fill="none" stroke="#000" stroke-width="1.1"/>
<path d="M59.30 390.20 H62.10" stroke="#000" stroke-width="1"/>
<text x="56.20" y="392.70" font-size="7.4" stroke="#231f20" stroke-width="0.18" text-anchor="end" textLength="8.60" lengthAdjust="spacingAndGlyphs">0.1</text>
<path d="M59.30 400.80 H62.10" stroke="#000" stroke-width="1"/>
<text x="56.20" y="403.30" font-size="7.4" stroke="#231f20" stroke-width="0.18" text-anchor="end" textLength="8.60" lengthAdjust="spacingAndGlyphs">0.0</text>
<path d="M59.30 411.30 H62.10" stroke="#000" stroke-width="1"/>
<text x="56.20" y="413.80" font-size="7.4" stroke="#231f20" stroke-width="0.18" text-anchor="end" textLength="11.50" lengthAdjust="spacingAndGlyphs">−0.1</text>
<path d="M59.30 421.70 H62.10" stroke="#000" stroke-width="1"/>
<text x="56.20" y="424.20" font-size="7.4" stroke="#231f20" stroke-width="0.18" text-anchor="end" textLength="11.50" lengthAdjust="spacingAndGlyphs">−0.2</text>
<path d="M59.30 432.30 H62.10" stroke="#000" stroke-width="1"/>
<text x="56.20" y="434.80" font-size="7.4" stroke="#231f20" stroke-width="0.18" text-anchor="end" textLength="11.50" lengthAdjust="spacingAndGlyphs">−0.3</text>
<path d="M59.50 468.20 H62.10" stroke="#000" stroke-width="0.9"/>
<path d="M59.50 472.20 H62.10" stroke="#000" stroke-width="0.9"/>
<path d="M59.50 476.50 H62.10" stroke="#000" stroke-width="0.9"/>
<path d="M59.50 480.50 H62.10" stroke="#000" stroke-width="0.9"/>
<text x="56.60" y="470.60" font-size="7.0" stroke="#231f20" stroke-width="0.18" text-anchor="end" textLength="3.40" lengthAdjust="spacingAndGlyphs">5</text>
<text x="56.60" y="474.60" font-size="7.0" stroke="#231f20" stroke-width="0.18" text-anchor="end" textLength="3.40" lengthAdjust="spacingAndGlyphs">0</text>
<text x="56.60" y="478.90" font-size="7.0" stroke="#231f20" stroke-width="0.18" text-anchor="end" textLength="6.60" lengthAdjust="spacingAndGlyphs">−5</text>
<text x="56.60" y="482.90" font-size="7.0" stroke="#231f20" stroke-width="0.18" text-anchor="end" textLength="10.20" lengthAdjust="spacingAndGlyphs">−10</text>
<path d="M111.00 484.30 V487.30" stroke="#000" stroke-width="1"/>
<text x="111.00" y="496.60" font-size="7.3" stroke="#231f20" stroke-width="0.18" text-anchor="middle" textLength="14.00" lengthAdjust="spacingAndGlyphs">5000</text>
<path d="M159.25 484.30 V487.30" stroke="#000" stroke-width="1"/>
<text x="159.25" y="496.60" font-size="7.3" stroke="#231f20" stroke-width="0.18" text-anchor="middle" textLength="17.20" lengthAdjust="spacingAndGlyphs">10000</text>
<path d="M208.25 484.30 V487.30" stroke="#000" stroke-width="1"/>
<text x="208.25" y="496.60" font-size="7.3" stroke="#231f20" stroke-width="0.18" text-anchor="middle" textLength="17.20" lengthAdjust="spacingAndGlyphs">15000</text>
<text x="62.40" y="496.60" font-size="7.8" stroke="#111" stroke-width="0.12" font-weight="bold" fill="#111" textLength="22.00" lengthAdjust="spacingAndGlyphs">J<tspan dy="-3.0" font-size="4.6">VF</tspan><tspan dy="1.3">p</tspan><tspan dy="-1.3" font-size="4.6">−/−</tspan></text>
<text x="240.70" y="496.60" font-size="7.8" stroke="#c5052d" stroke-width="0.12" font-weight="bold" text-anchor="end" fill="#c5052d" textLength="10.00" lengthAdjust="spacingAndGlyphs">J<tspan dy="-3.0" font-size="4.6">VF</tspan></text>
<text x="112.50" y="508.90" font-size="9.6" stroke="#231f20" stroke-width="0.18" textLength="77.90" lengthAdjust="spacingAndGlyphs">Rank in ordered dataset</text>
<text x="76.20" y="363.90" font-size="9.7" stroke="#231f20" stroke-width="0.18" textLength="150.00" lengthAdjust="spacingAndGlyphs">IVANOVA_HEMATOPOIESIS_STEM</text>
<text x="92.30" y="375.80" font-size="9.7" stroke="#231f20" stroke-width="0.18" textLength="117.70" lengthAdjust="spacingAndGlyphs">_CELL_AND_PROGENITOR</text>
<text x="26.20" y="413.00" font-size="9.7" stroke="#231f20" stroke-width="0.06" text-anchor="middle" textLength="28.30" lengthAdjust="spacingAndGlyphs" transform="rotate(-90 26.20 413.00)">Running</text>
<text x="38.20" y="413.00" font-size="9.7" stroke="#231f20" stroke-width="0.06" text-anchor="middle" textLength="56.70" lengthAdjust="spacingAndGlyphs" transform="rotate(-90 38.20 413.00)">enrichment score</text>
<text x="26.20" y="473.30" font-size="9.7" stroke="#231f20" stroke-width="0.06" text-anchor="middle" textLength="25.00" lengthAdjust="spacingAndGlyphs" transform="rotate(-90 26.20 473.30)">Ranked</text>
<text x="38.20" y="473.30" font-size="9.7" stroke="#231f20" stroke-width="0.06" text-anchor="middle" textLength="33.50" lengthAdjust="spacingAndGlyphs" transform="rotate(-90 38.20 473.30)">list metric</text>
<text x="87.10" y="411.70" font-size="7.2" stroke="#231f20" stroke-width="0.18" textLength="19.79" lengthAdjust="spacingAndGlyphs">FDR=0</text>
<text x="87.10" y="419.00" font-size="7.2" stroke="#231f20" stroke-width="0.18" textLength="37.55" lengthAdjust="spacingAndGlyphs">NES=−1.4093</text>
<polyline points="62.40,399.90 64.00,395.40 66.90,391.90 69.80,393.10 72.70,392.50 75.60,387.70 78.50,387.70 81.30,386.20 86.20,386.70 91.90,387.70 97.70,389.20 103.50,390.60 109.20,392.50 115.00,395.40 123.00,398.70 136.00,405.50 149.00,412.50 162.00,420.30 175.00,427.30 188.00,433.20 198.30,436.60 206.10,437.70 213.90,436.60 220.40,437.70 224.30,434.50 229.50,428.00 234.70,419.00 238.00,408.60 239.90,399.50" fill="none" stroke="#c5052d" stroke-width="1.45" stroke-linejoin="round"/>
<rect x="65.90" y="601.80" width="3.90" height="14.40" fill="#333"/>
<rect x="70.70" y="601.80" width="9.30" height="14.40" fill="#000"/>
<rect x="84.00" y="601.80" width="2.20" height="14.40" fill="#000"/>
<rect x="88.90" y="601.80" width="6.60" height="14.40" fill="#000"/>
<rect x="96.40" y="601.80" width="1.80" height="14.40" fill="#000"/>
<rect x="98.20" y="601.80" width="1.70" height="14.40" fill="#888"/>
<rect x="100.80" y="601.80" width="8.20" height="14.40" fill="#000"/>
<rect x="109.90" y="601.80" width="1.30" height="14.40" fill="#000"/>
<rect x="113.80" y="601.80" width="4.50" height="14.40" fill="#000"/>
<rect x="120.90" y="601.80" width="4.90" height="14.40" fill="#000"/>
<rect x="128.50" y="601.80" width="1.60" height="14.40" fill="#000"/>
<rect x="130.60" y="601.80" width="0.90" height="14.40" fill="#000"/>
<rect x="131.50" y="601.80" width="5.40" height="14.40" fill="#555"/>
<rect x="141.30" y="601.80" width="6.60" height="14.40" fill="#000"/>
<rect x="149.70" y="601.80" width="1.50" height="14.40" fill="#000"/>
<rect x="151.20" y="601.80" width="0.90" height="14.40" fill="#888"/>
<rect x="152.10" y="601.80" width="0.90" height="14.40" fill="#000"/>
<rect x="153.90" y="601.80" width="0.90" height="14.40" fill="#000"/>
<rect x="154.80" y="601.80" width="1.30" height="14.40" fill="#888"/>
<rect x="156.10" y="601.80" width="1.30" height="14.40" fill="#000"/>
<rect x="158.30" y="601.80" width="0.90" height="14.40" fill="#888"/>
<rect x="160.90" y="601.80" width="1.40" height="14.40" fill="#000"/>
<rect x="163.60" y="601.80" width="1.80" height="14.40" fill="#000"/>
<rect x="166.70" y="601.80" width="1.30" height="14.40" fill="#000"/>
<rect x="169.80" y="601.80" width="1.30" height="14.40" fill="#000"/>
<rect x="175.10" y="601.80" width="4.90" height="14.40" fill="#000"/>
<rect x="182.20" y="601.80" width="1.30" height="14.40" fill="#000"/>
<rect x="184.80" y="601.80" width="3.10" height="14.40" fill="#000"/>
<rect x="191.90" y="601.80" width="1.80" height="14.40" fill="#000"/>
<rect x="193.70" y="601.80" width="1.10" height="14.40" fill="#777"/>
<rect x="194.80" y="601.80" width="4.40" height="14.40" fill="#000"/>
<rect x="200.10" y="601.80" width="1.30" height="14.40" fill="#000"/>
<rect x="201.90" y="601.80" width="2.60" height="14.40" fill="#000"/>
<rect x="206.70" y="601.80" width="4.40" height="14.40" fill="#000"/>
<rect x="211.10" y="601.80" width="1.40" height="14.40" fill="#777"/>
<rect x="212.50" y="601.80" width="1.70" height="14.40" fill="#000"/>
<rect x="215.60" y="601.80" width="9.30" height="14.40" fill="#000"/>
<rect x="224.90" y="601.80" width="0.80" height="14.40" fill="#888"/>
<rect x="225.70" y="601.80" width="10.20" height="14.40" fill="#000"/>
<rect x="74.60" y="601.80" width="0.8" height="14.40" fill="#555"/>
<rect x="76.60" y="601.80" width="0.8" height="14.40" fill="#666"/>
<rect x="91.10" y="601.80" width="0.8" height="14.40" fill="#666"/>
<rect x="92.60" y="601.80" width="0.8" height="14.40" fill="#555"/>
<rect x="103.60" y="601.80" width="0.8" height="14.40" fill="#444"/>
<rect x="115.60" y="601.80" width="0.8" height="14.40" fill="#555"/>
<rect x="123.10" y="601.80" width="0.8" height="14.40" fill="#666"/>
<rect x="143.60" y="601.80" width="0.8" height="14.40" fill="#555"/>
<rect x="145.60" y="601.80" width="0.8" height="14.40" fill="#666"/>
<rect x="177.10" y="601.80" width="0.8" height="14.40" fill="#444"/>
<rect x="219.60" y="601.80" width="0.8" height="14.40" fill="#333"/>
<rect x="62.50" y="616.20" width="7.55" height="6.10" fill="#d42d22"/>
<rect x="70.00" y="616.20" width="5.05" height="6.10" fill="#ec5f3f"/>
<rect x="75.00" y="616.20" width="7.05" height="6.10" fill="#f2a88e"/>
<rect x="82.00" y="616.20" width="16.05" height="6.10" fill="#fbdccd"/>
<rect x="98.00" y="616.20" width="37.05" height="6.10" fill="#e3e6f4"/>
<rect x="135.00" y="616.20" width="40.05" height="6.10" fill="#b9d3e3"/>
<rect x="175.00" y="616.20" width="25.05" height="6.10" fill="#62a5d7"/>
<rect x="200.00" y="616.20" width="32.05" height="6.10" fill="#2b78bc"/>
<rect x="232.00" y="616.20" width="4.05" height="6.10" fill="#1f559e"/>
<rect x="70.50" y="616.20" width="165.50" height="6.10" fill="url(#cbs)"/>
<path d="M63.00 630.20 L63.00 625.30 C68.50 627.50 74.50 629.50 92.50 629.90 L211.00 630.50 C228.00 631.00 234.00 632.20 235.10 633.70 L235.40 639.80 L235.80 639.80 L235.80 630.20 Z" fill="#c8c8c8"/>
<path d="M62.50 630.20 H236.00" stroke="#c4c4c4" stroke-width="0.6"/>
<path d="M62.50 541.30 V642.30 H236.00" fill="none" stroke="#000" stroke-width="1.1"/>
<path d="M59.70 554.20 H62.50" stroke="#000" stroke-width="1"/>
<text x="56.60" y="556.70" font-size="7.4" stroke="#231f20" stroke-width="0.18" text-anchor="end" textLength="8.60" lengthAdjust="spacingAndGlyphs">0.0</text>
<path d="M59.70 562.90 H62.50" stroke="#000" stroke-width="1"/>
<text x="56.60" y="565.40" font-size="7.4" stroke="#231f20" stroke-width="0.18" text-anchor="end" textLength="11.50" lengthAdjust="spacingAndGlyphs">−0.1</text>
<path d="M59.70 571.50 H62.50" stroke="#000" stroke-width="1"/>
<text x="56.60" y="574.00" font-size="7.4" stroke="#231f20" stroke-width="0.18" text-anchor="end" textLength="11.50" lengthAdjust="spacingAndGlyphs">−0.2</text>
<path d="M59.70 580.20 H62.50" stroke="#000" stroke-width="1"/>
<text x="56.60" y="582.70" font-size="7.4" stroke="#231f20" stroke-width="0.18" text-anchor="end" textLength="11.50" lengthAdjust="spacingAndGlyphs">−0.3</text>
<path d="M59.70 588.80 H62.50" stroke="#000" stroke-width="1"/>
<text x="56.60" y="591.30" font-size="7.4" stroke="#231f20" stroke-width="0.18" text-anchor="end" textLength="11.50" lengthAdjust="spacingAndGlyphs">−0.4</text>
<path d="M59.70 597.50 H62.50" stroke="#000" stroke-width="1"/>
<text x="56.60" y="600.00" font-size="7.4" stroke="#231f20" stroke-width="0.18" text-anchor="end" textLength="11.50" lengthAdjust="spacingAndGlyphs">−0.5</text>
<path d="M59.90 625.80 H62.50" stroke="#000" stroke-width="0.9"/>
<path d="M59.90 629.80 H62.50" stroke="#000" stroke-width="0.9"/>
<path d="M59.90 634.10 H62.50" stroke="#000" stroke-width="0.9"/>
<path d="M59.90 638.80 H62.50" stroke="#000" stroke-width="0.9"/>
<text x="57.00" y="628.20" font-size="7.0" stroke="#231f20" stroke-width="0.18" text-anchor="end" textLength="3.40" lengthAdjust="spacingAndGlyphs">5</text>
<text x="57.00" y="632.20" font-size="7.0" stroke="#231f20" stroke-width="0.18" text-anchor="end" textLength="3.40" lengthAdjust="spacingAndGlyphs">0</text>
<text x="57.00" y="636.50" font-size="7.0" stroke="#231f20" stroke-width="0.18" text-anchor="end" textLength="6.60" lengthAdjust="spacingAndGlyphs">−5</text>
<text x="57.00" y="641.20" font-size="7.0" stroke="#231f20" stroke-width="0.18" text-anchor="end" textLength="10.20" lengthAdjust="spacingAndGlyphs">−10</text>
<path d="M111.00 642.30 V645.30" stroke="#000" stroke-width="1"/>
<text x="111.00" y="653.70" font-size="7.3" stroke="#231f20" stroke-width="0.18" text-anchor="middle" textLength="14.00" lengthAdjust="spacingAndGlyphs">5000</text>
<path d="M159.25 642.30 V645.30" stroke="#000" stroke-width="1"/>
<text x="159.25" y="653.70" font-size="7.3" stroke="#231f20" stroke-width="0.18" text-anchor="middle" textLength="17.20" lengthAdjust="spacingAndGlyphs">10000</text>
<path d="M208.25 642.30 V645.30" stroke="#000" stroke-width="1"/>
<text x="208.25" y="653.70" font-size="7.3" stroke="#231f20" stroke-width="0.18" text-anchor="middle" textLength="17.20" lengthAdjust="spacingAndGlyphs">15000</text>
<text x="62.80" y="653.70" font-size="7.8" stroke="#111" stroke-width="0.12" font-weight="bold" fill="#111" textLength="22.00" lengthAdjust="spacingAndGlyphs">J<tspan dy="-3.0" font-size="4.6">VF</tspan><tspan dy="1.3">p</tspan><tspan dy="-1.3" font-size="4.6">−/−</tspan></text>
<text x="239.60" y="653.70" font-size="7.8" stroke="#c5052d" stroke-width="0.12" font-weight="bold" text-anchor="end" fill="#c5052d" textLength="10.00" lengthAdjust="spacingAndGlyphs">J<tspan dy="-3.0" font-size="4.6">VF</tspan></text>
<text x="104.60" y="666.50" font-size="9.6" stroke="#231f20" stroke-width="0.18" textLength="79.20" lengthAdjust="spacingAndGlyphs">Rank in ordered dataset</text>
<text x="88.10" y="530.40" font-size="9.7" stroke="#231f20" stroke-width="0.18" textLength="125.90" lengthAdjust="spacingAndGlyphs">JAATINEN_HEMATOPOIETIC</text>
<text x="113.70" y="540.60" font-size="9.7" stroke="#231f20" stroke-width="0.18" textLength="70.10" lengthAdjust="spacingAndGlyphs">_STEM_CELL_DN</text>
<text x="26.60" y="571.00" font-size="9.7" stroke="#231f20" stroke-width="0.06" text-anchor="middle" textLength="28.30" lengthAdjust="spacingAndGlyphs" transform="rotate(-90 26.60 571.00)">Running</text>
<text x="38.60" y="571.00" font-size="9.7" stroke="#231f20" stroke-width="0.06" text-anchor="middle" textLength="56.70" lengthAdjust="spacingAndGlyphs" transform="rotate(-90 38.60 571.00)">enrichment score</text>
<text x="26.60" y="632.00" font-size="9.7" stroke="#231f20" stroke-width="0.06" text-anchor="middle" textLength="25.00" lengthAdjust="spacingAndGlyphs" transform="rotate(-90 26.60 632.00)">Ranked</text>
<text x="38.60" y="632.00" font-size="9.7" stroke="#231f20" stroke-width="0.06" text-anchor="middle" textLength="33.50" lengthAdjust="spacingAndGlyphs" transform="rotate(-90 38.60 632.00)">list metric</text>
<text x="87.10" y="576.00" font-size="7.2" stroke="#231f20" stroke-width="0.18" textLength="19.79" lengthAdjust="spacingAndGlyphs">FDR=0</text>
<text x="87.10" y="583.10" font-size="7.2" stroke="#231f20" stroke-width="0.18" textLength="37.55" lengthAdjust="spacingAndGlyphs">NES=−2.0448</text>
<polyline points="62.70,554.20 66.00,555.80 68.80,554.20 72.70,553.70 74.60,550.40 76.50,548.80 80.40,549.00 84.20,550.80 87.10,550.40 91.90,551.90 97.70,552.70 103.50,553.80 109.20,555.20 115.00,557.10 123.00,560.80 136.00,566.80 149.00,573.20 162.00,579.70 175.00,586.20 188.00,592.00 198.30,595.80 206.10,598.40 211.30,599.00 216.50,598.40 221.70,595.10 225.60,586.80 229.50,579.00 233.40,568.60 235.50,554.30" fill="none" stroke="#c5052d" stroke-width="1.45" stroke-linejoin="round"/>
<rect x="337.80" y="280.40" width="2.20" height="14.30" fill="#000"/>
<rect x="340.40" y="280.40" width="1.10" height="14.30" fill="#222"/>
<rect x="341.80" y="280.40" width="1.30" height="14.30" fill="#000"/>
<rect x="344.80" y="280.40" width="4.50" height="14.30" fill="#000"/>
<rect x="353.00" y="280.40" width="1.10" height="14.30" fill="#000"/>
<rect x="355.60" y="280.40" width="2.50" height="14.30" fill="#000"/>
<rect x="358.60" y="280.40" width="1.70" height="14.30" fill="#222"/>
<rect x="364.10" y="280.40" width="2.00" height="14.30" fill="#666"/>
<rect x="366.50" y="280.40" width="1.40" height="14.30" fill="#000"/>
<rect x="370.10" y="280.40" width="4.80" height="14.30" fill="#000"/>
<rect x="376.90" y="280.40" width="4.40" height="14.30" fill="#000"/>
<rect x="381.80" y="280.40" width="1.70" height="14.30" fill="#000"/>
<rect x="385.80" y="280.40" width="2.20" height="14.30" fill="#000"/>
<rect x="388.80" y="280.40" width="4.00" height="14.30" fill="#000"/>
<rect x="395.50" y="280.40" width="4.90" height="14.30" fill="#000"/>
<rect x="402.60" y="280.40" width="8.40" height="14.30" fill="#000"/>
<rect x="413.20" y="280.40" width="7.10" height="14.30" fill="#000"/>
<rect x="421.20" y="280.40" width="10.80" height="14.30" fill="#000"/>
<rect x="435.90" y="280.40" width="2.30" height="14.30" fill="#000"/>
<rect x="439.00" y="280.40" width="1.40" height="14.30" fill="#000"/>
<rect x="441.70" y="280.40" width="1.30" height="14.30" fill="#000"/>
<rect x="443.90" y="280.40" width="1.30" height="14.30" fill="#000"/>
<rect x="447.50" y="280.40" width="22.30" height="14.30" fill="#000"/>
<rect x="471.10" y="280.40" width="2.70" height="14.30" fill="#000"/>
<rect x="475.10" y="280.40" width="1.70" height="14.30" fill="#000"/>
<rect x="478.60" y="280.40" width="9.30" height="14.30" fill="#000"/>
<rect x="488.80" y="280.40" width="1.80" height="14.30" fill="#000"/>
<rect x="492.30" y="280.40" width="6.20" height="14.30" fill="#000"/>
<rect x="499.90" y="280.40" width="11.00" height="14.30" fill="#000"/>
<rect x="373.10" y="280.40" width="0.8" height="14.30" fill="#555"/>
<rect x="390.10" y="280.40" width="0.8" height="14.30" fill="#555"/>
<rect x="397.10" y="280.40" width="0.8" height="14.30" fill="#666"/>
<rect x="398.10" y="280.40" width="0.8" height="14.30" fill="#555"/>
<rect x="406.10" y="280.40" width="0.8" height="14.30" fill="#555"/>
<rect x="414.60" y="280.40" width="0.8" height="14.30" fill="#666"/>
<rect x="416.80" y="280.40" width="0.8" height="14.30" fill="#555"/>
<rect x="418.60" y="280.40" width="0.8" height="14.30" fill="#666"/>
<rect x="423.10" y="280.40" width="0.8" height="14.30" fill="#666"/>
<rect x="425.60" y="280.40" width="0.8" height="14.30" fill="#555"/>
<rect x="427.60" y="280.40" width="0.8" height="14.30" fill="#666"/>
<rect x="429.10" y="280.40" width="0.8" height="14.30" fill="#555"/>
<rect x="449.60" y="280.40" width="0.8" height="14.30" fill="#666"/>
<rect x="453.10" y="280.40" width="0.8" height="14.30" fill="#555"/>
<rect x="456.60" y="280.40" width="0.8" height="14.30" fill="#666"/>
<rect x="460.60" y="280.40" width="0.8" height="14.30" fill="#555"/>
<rect x="464.30" y="280.40" width="0.8" height="14.30" fill="#666"/>
<rect x="483.60" y="280.40" width="0.8" height="14.30" fill="#777"/>
<rect x="485.10" y="280.40" width="0.8" height="14.30" fill="#888"/>
<rect x="486.10" y="280.40" width="0.8" height="14.30" fill="#666"/>
<rect x="503.60" y="280.40" width="0.8" height="14.30" fill="#333"/>
<rect x="337.70" y="294.70" width="7.35" height="5.30" fill="#d42d22"/>
<rect x="345.00" y="294.70" width="15.05" height="5.30" fill="#ec5f3f"/>
<rect x="360.00" y="294.70" width="25.05" height="5.30" fill="#f2a88e"/>
<rect x="385.00" y="294.70" width="20.05" height="5.30" fill="#fbdccd"/>
<rect x="405.00" y="294.70" width="28.05" height="5.30" fill="#e3e6f4"/>
<rect x="433.00" y="294.70" width="19.05" height="5.30" fill="#b9d3e3"/>
<rect x="452.00" y="294.70" width="26.05" height="5.30" fill="#62a5d7"/>
<rect x="478.00" y="294.70" width="33.05" height="5.30" fill="#2b78bc"/>
<rect x="345.70" y="294.70" width="165.30" height="5.30" fill="url(#cbs)"/>
<path d="M338.20 312.70 L338.20 308.10 C341.70 310.60 345.70 310.90 357.70 311.30 L481.00 312.30 C499.00 313.00 508.00 314.20 509.80 316.20 L510.40 318.70 L510.80 318.70 L510.80 312.70 Z" fill="#c8c8c8"/>
<path d="M337.70 312.70 H511.00" stroke="#c4c4c4" stroke-width="0.6"/>
<path d="M337.70 221.40 V320.20 H511.00" fill="none" stroke="#000" stroke-width="1.1"/>
<path d="M334.90 225.30 H337.70" stroke="#000" stroke-width="1"/>
<text x="331.80" y="227.80" font-size="7.4" stroke="#231f20" stroke-width="0.18" text-anchor="end" textLength="8.60" lengthAdjust="spacingAndGlyphs">0.1</text>
<path d="M334.90 234.20 H337.70" stroke="#000" stroke-width="1"/>
<text x="331.80" y="236.70" font-size="7.4" stroke="#231f20" stroke-width="0.18" text-anchor="end" textLength="8.60" lengthAdjust="spacingAndGlyphs">0.0</text>
<path d="M334.90 243.10 H337.70" stroke="#000" stroke-width="1"/>
<text x="331.80" y="245.60" font-size="7.4" stroke="#231f20" stroke-width="0.18" text-anchor="end" textLength="11.50" lengthAdjust="spacingAndGlyphs">−0.1</text>
<path d="M334.90 252.00 H337.70" stroke="#000" stroke-width="1"/>
<text x="331.80" y="254.50" font-size="7.4" stroke="#231f20" stroke-width="0.18" text-anchor="end" textLength="11.50" lengthAdjust="spacingAndGlyphs">−0.2</text>
<path d="M334.90 260.90 H337.70" stroke="#000" stroke-width="1"/>
<text x="331.80" y="263.40" font-size="7.4" stroke="#231f20" stroke-width="0.18" text-anchor="end" textLength="11.50" lengthAdjust="spacingAndGlyphs">−0.3</text>
<path d="M334.90 269.90 H337.70" stroke="#000" stroke-width="1"/>
<text x="331.80" y="272.40" font-size="7.4" stroke="#231f20" stroke-width="0.18" text-anchor="end" textLength="11.50" lengthAdjust="spacingAndGlyphs">−0.4</text>
<path d="M334.90 278.80 H337.70" stroke="#000" stroke-width="1"/>
<text x="331.80" y="281.30" font-size="7.4" stroke="#231f20" stroke-width="0.18" text-anchor="end" textLength="11.50" lengthAdjust="spacingAndGlyphs">−0.5</text>
<path d="M335.10 303.20 H337.70" stroke="#000" stroke-width="0.9"/>
<path d="M335.10 307.80 H337.70" stroke="#000" stroke-width="0.9"/>
<path d="M335.10 312.70 H337.70" stroke="#000" stroke-width="0.9"/>
<path d="M335.10 317.60 H337.70" stroke="#000" stroke-width="0.9"/>
<text x="331.80" y="305.60" font-size="7.2" stroke="#231f20" stroke-width="0.18" text-anchor="end" textLength="6.90" lengthAdjust="spacingAndGlyphs">20</text>
<text x="331.80" y="310.20" font-size="7.2" stroke="#231f20" stroke-width="0.18" text-anchor="end" textLength="6.90" lengthAdjust="spacingAndGlyphs">10</text>
<text x="331.80" y="315.10" font-size="7.2" stroke="#231f20" stroke-width="0.18" text-anchor="end" textLength="3.40" lengthAdjust="spacingAndGlyphs">0</text>
<text x="331.80" y="320.00" font-size="7.2" stroke="#231f20" stroke-width="0.18" text-anchor="end" textLength="10.30" lengthAdjust="spacingAndGlyphs">−10</text>
<path d="M387.25 320.20 V323.20" stroke="#000" stroke-width="1"/>
<text x="387.25" y="330.20" font-size="7.3" stroke="#231f20" stroke-width="0.18" text-anchor="middle" textLength="14.00" lengthAdjust="spacingAndGlyphs">5000</text>
<path d="M436.75 320.20 V323.20" stroke="#000" stroke-width="1"/>
<text x="436.75" y="330.20" font-size="7.3" stroke="#231f20" stroke-width="0.18" text-anchor="middle" textLength="17.20" lengthAdjust="spacingAndGlyphs">10000</text>
<path d="M486.25 320.20 V323.20" stroke="#000" stroke-width="1"/>
<text x="486.25" y="330.20" font-size="7.3" stroke="#231f20" stroke-width="0.18" text-anchor="middle" textLength="17.20" lengthAdjust="spacingAndGlyphs">15000</text>
<text x="338.00" y="330.20" font-size="7.8" stroke="#111" stroke-width="0.12" font-weight="bold" fill="#111" textLength="30.00" lengthAdjust="spacingAndGlyphs">J<tspan dy="-3.0" font-size="4.6">VF</tspan><tspan dy="1.3">p</tspan><tspan dy="-1.3" font-size="4.6">172/−</tspan></text>
<text x="512.50" y="330.20" font-size="7.8" stroke="#c5052d" stroke-width="0.12" font-weight="bold" text-anchor="end" fill="#c5052d" textLength="10.00" lengthAdjust="spacingAndGlyphs">J<tspan dy="-3.0" font-size="4.6">VF</tspan></text>
<text x="384.70" y="344.70" font-size="9.6" stroke="#231f20" stroke-width="0.18" textLength="78.50" lengthAdjust="spacingAndGlyphs">Rank in ordered dataset</text>
<text x="352.00" y="216.20" font-size="9.7" stroke="#231f20" stroke-width="0.18" textLength="144.80" lengthAdjust="spacingAndGlyphs">GAL_LEUKEMIC_STEM_CELL_DN</text>
<text x="301.80" y="252.50" font-size="9.7" stroke="#231f20" stroke-width="0.06" text-anchor="middle" textLength="28.50" lengthAdjust="spacingAndGlyphs" transform="rotate(-90 301.80 252.50)">Running</text>
<text x="313.80" y="252.50" font-size="9.7" stroke="#231f20" stroke-width="0.06" text-anchor="middle" textLength="57.50" lengthAdjust="spacingAndGlyphs" transform="rotate(-90 313.80 252.50)">enrichment score</text>
<text x="301.80" y="309.30" font-size="9.7" stroke="#231f20" stroke-width="0.06" text-anchor="middle" textLength="23.00" lengthAdjust="spacingAndGlyphs" transform="rotate(-90 301.80 309.30)">Ranked</text>
<text x="313.80" y="309.30" font-size="9.7" stroke="#231f20" stroke-width="0.06" text-anchor="middle" textLength="32.30" lengthAdjust="spacingAndGlyphs" transform="rotate(-90 313.80 309.30)">list metric</text>
<text x="362.90" y="252.20" font-size="7.2" stroke="#231f20" stroke-width="0.18" textLength="19.79" lengthAdjust="spacingAndGlyphs">FDR=0</text>
<text x="362.90" y="259.60" font-size="7.2" stroke="#231f20" stroke-width="0.18" textLength="37.55" lengthAdjust="spacingAndGlyphs">NES=−1.8251</text>
<polyline points="337.90,234.40 339.50,231.40 341.20,232.00 343.00,228.50 344.70,229.20 346.40,228.50 348.70,226.80 351.60,228.50 356.00,229.20 360.30,230.10 364.60,232.00 373.30,235.40 381.90,238.90 390.60,241.80 395.70,244.10 402.70,246.10 411.30,249.60 415.00,251.50 425.10,257.60 435.20,262.60 445.30,266.70 455.40,269.70 465.50,272.30 475.60,274.70 481.70,275.80 487.70,275.80 491.80,276.80 495.80,273.70 499.80,271.70 503.90,264.60 506.90,256.60 508.90,246.50 510.40,233.30" fill="none" stroke="#c5052d" stroke-width="1.45" stroke-linejoin="round"/>
<rect x="337.90" y="444.20" width="129.90" height="14.30" fill="#000"/>
<rect x="469.80" y="444.20" width="7.00" height="14.30" fill="#000"/>
<rect x="478.60" y="444.20" width="32.30" height="14.30" fill="#000"/>
<rect x="344.40" y="444.20" width="0.8" height="14.30" fill="#666"/>
<rect x="345.80" y="444.20" width="0.8" height="14.30" fill="#777"/>
<rect x="349.30" y="444.20" width="0.8" height="14.30" fill="#666"/>
<rect x="354.20" y="444.20" width="0.8" height="14.30" fill="#777"/>
<rect x="355.50" y="444.20" width="0.8" height="14.30" fill="#eee"/>
<rect x="356.40" y="444.20" width="0.8" height="14.30" fill="#777"/>
<rect x="360.40" y="444.20" width="0.8" height="14.30" fill="#666"/>
<rect x="363.90" y="444.20" width="0.8" height="14.30" fill="#eee"/>
<rect x="371.90" y="444.20" width="0.8" height="14.30" fill="#666"/>
<rect x="374.10" y="444.20" width="0.8" height="14.30" fill="#777"/>
<rect x="375.90" y="444.20" width="0.8" height="14.30" fill="#666"/>
<rect x="378.10" y="444.20" width="0.8" height="14.30" fill="#777"/>
<rect x="383.60" y="444.20" width="0.8" height="14.30" fill="#777"/>
<rect x="393.30" y="444.20" width="0.8" height="14.30" fill="#888"/>
<rect x="402.20" y="444.20" width="0.8" height="14.30" fill="#444"/>
<rect x="407.00" y="444.20" width="0.8" height="14.30" fill="#444"/>
<rect x="414.10" y="444.20" width="0.8" height="14.30" fill="#eee"/>
<rect x="415.90" y="444.20" width="0.8" height="14.30" fill="#444"/>
<rect x="418.50" y="444.20" width="0.8" height="14.30" fill="#444"/>
<rect x="421.60" y="444.20" width="0.8" height="14.30" fill="#444"/>
<rect x="429.40" y="444.20" width="0.8" height="14.30" fill="#888"/>
<rect x="434.20" y="444.20" width="0.8" height="14.30" fill="#333"/>
<rect x="439.50" y="444.20" width="0.8" height="14.30" fill="#999"/>
<rect x="447.10" y="444.20" width="0.8" height="14.30" fill="#777"/>
<rect x="448.80" y="444.20" width="0.8" height="14.30" fill="#bbb"/>
<rect x="451.40" y="444.20" width="0.8" height="14.30" fill="#555"/>
<rect x="452.40" y="444.20" width="0.8" height="14.30" fill="#555"/>
<rect x="457.60" y="444.20" width="0.8" height="14.30" fill="#999"/>
<rect x="459.90" y="444.20" width="0.8" height="14.30" fill="#333"/>
<rect x="463.00" y="444.20" width="0.8" height="14.30" fill="#777"/>
<rect x="464.80" y="444.20" width="0.8" height="14.30" fill="#555"/>
<rect x="467.00" y="444.20" width="0.8" height="14.30" fill="#777"/>
<rect x="472.50" y="444.20" width="0.8" height="14.30" fill="#555"/>
<rect x="481.30" y="444.20" width="0.8" height="14.30" fill="#555"/>
<rect x="484.00" y="444.20" width="0.8" height="14.30" fill="#555"/>
<rect x="486.20" y="444.20" width="0.8" height="14.30" fill="#555"/>
<rect x="490.20" y="444.20" width="0.8" height="14.30" fill="#444"/>
<rect x="337.70" y="458.50" width="7.35" height="5.70" fill="#d42d22"/>
<rect x="345.00" y="458.50" width="15.05" height="5.70" fill="#ec5f3f"/>
<rect x="360.00" y="458.50" width="27.05" height="5.70" fill="#f2a88e"/>
<rect x="387.00" y="458.50" width="25.05" height="5.70" fill="#fbdccd"/>
<rect x="412.00" y="458.50" width="24.05" height="5.70" fill="#e3e6f4"/>
<rect x="436.00" y="458.50" width="19.05" height="5.70" fill="#b9d3e3"/>
<rect x="455.00" y="458.50" width="25.05" height="5.70" fill="#62a5d7"/>
<rect x="480.00" y="458.50" width="31.05" height="5.70" fill="#2b78bc"/>
<rect x="345.70" y="458.50" width="165.30" height="5.70" fill="url(#cbs)"/>
<path d="M338.20 477.00 L338.20 472.40 C341.70 474.90 345.70 475.20 357.70 475.60 L481.00 476.60 C499.00 477.30 508.00 478.50 509.80 480.50 L510.40 482.40 L510.80 482.40 L510.80 477.00 Z" fill="#c8c8c8"/>
<path d="M337.70 477.00 H511.00" stroke="#c4c4c4" stroke-width="0.6"/>
<path d="M337.70 389.00 V483.90 H511.00" fill="none" stroke="#000" stroke-width="1.1"/>
<path d="M334.90 394.60 H337.70" stroke="#000" stroke-width="1"/>
<text x="331.80" y="397.10" font-size="7.4" stroke="#231f20" stroke-width="0.18" text-anchor="end" textLength="8.60" lengthAdjust="spacingAndGlyphs">0.0</text>
<path d="M334.90 404.40 H337.70" stroke="#000" stroke-width="1"/>
<text x="331.80" y="406.90" font-size="7.4" stroke="#231f20" stroke-width="0.18" text-anchor="end" textLength="11.50" lengthAdjust="spacingAndGlyphs">−0.1</text>
<path d="M334.90 414.00 H337.70" stroke="#000" stroke-width="1"/>
<text x="331.80" y="416.50" font-size="7.4" stroke="#231f20" stroke-width="0.18" text-anchor="end" textLength="11.50" lengthAdjust="spacingAndGlyphs">−0.2</text>
<path d="M334.90 423.70 H337.70" stroke="#000" stroke-width="1"/>
<text x="331.80" y="426.20" font-size="7.4" stroke="#231f20" stroke-width="0.18" text-anchor="end" textLength="11.50" lengthAdjust="spacingAndGlyphs">−0.3</text>
<path d="M334.90 433.30 H337.70" stroke="#000" stroke-width="1"/>
<text x="331.80" y="435.80" font-size="7.4" stroke="#231f20" stroke-width="0.18" text-anchor="end" textLength="11.50" lengthAdjust="spacingAndGlyphs">−0.4</text>
<path d="M334.90 443.10 H337.70" stroke="#000" stroke-width="1"/>
<text x="331.80" y="445.60" font-size="7.4" stroke="#231f20" stroke-width="0.18" text-anchor="end" textLength="11.50" lengthAdjust="spacingAndGlyphs">−0.5</text>
<path d="M335.10 467.00 H337.70" stroke="#000" stroke-width="0.9"/>
<path d="M335.10 471.80 H337.70" stroke="#000" stroke-width="0.9"/>
<path d="M335.10 477.00 H337.70" stroke="#000" stroke-width="0.9"/>
<path d="M335.10 482.10 H337.70" stroke="#000" stroke-width="0.9"/>
<text x="331.80" y="469.40" font-size="7.2" stroke="#231f20" stroke-width="0.18" text-anchor="end" textLength="6.90" lengthAdjust="spacingAndGlyphs">20</text>
<text x="331.80" y="474.20" font-size="7.2" stroke="#231f20" stroke-width="0.18" text-anchor="end" textLength="6.90" lengthAdjust="spacingAndGlyphs">10</text>
<text x="331.80" y="479.40" font-size="7.2" stroke="#231f20" stroke-width="0.18" text-anchor="end" textLength="3.40" lengthAdjust="spacingAndGlyphs">0</text>
<text x="331.80" y="484.50" font-size="7.2" stroke="#231f20" stroke-width="0.18" text-anchor="end" textLength="10.30" lengthAdjust="spacingAndGlyphs">−10</text>
<path d="M387.25 483.90 V486.90" stroke="#000" stroke-width="1"/>
<text x="387.25" y="495.40" font-size="7.3" stroke="#231f20" stroke-width="0.18" text-anchor="middle" textLength="14.00" lengthAdjust="spacingAndGlyphs">5000</text>
<path d="M436.75 483.90 V486.90" stroke="#000" stroke-width="1"/>
<text x="436.75" y="495.40" font-size="7.3" stroke="#231f20" stroke-width="0.18" text-anchor="middle" textLength="17.20" lengthAdjust="spacingAndGlyphs">10000</text>
<path d="M486.25 483.90 V486.90" stroke="#000" stroke-width="1"/>
<text x="486.25" y="495.40" font-size="7.3" stroke="#231f20" stroke-width="0.18" text-anchor="middle" textLength="17.20" lengthAdjust="spacingAndGlyphs">15000</text>
<text x="338.00" y="495.40" font-size="7.8" stroke="#111" stroke-width="0.12" font-weight="bold" fill="#111" textLength="30.00" lengthAdjust="spacingAndGlyphs">J<tspan dy="-3.0" font-size="4.6">VF</tspan><tspan dy="1.3">p</tspan><tspan dy="-1.3" font-size="4.6">172/−</tspan></text>
<text x="512.50" y="495.40" font-size="7.8" stroke="#c5052d" stroke-width="0.12" font-weight="bold" text-anchor="end" fill="#c5052d" textLength="10.00" lengthAdjust="spacingAndGlyphs">J<tspan dy="-3.0" font-size="4.6">VF</tspan></text>
<text x="384.70" y="508.60" font-size="9.6" stroke="#231f20" stroke-width="0.18" textLength="78.50" lengthAdjust="spacingAndGlyphs">Rank in ordered dataset</text>
<text x="341.20" y="364.40" font-size="9.7" stroke="#231f20" stroke-width="0.18" textLength="150.00" lengthAdjust="spacingAndGlyphs">IVANOVA_HEMATOPOIESIS_STEM</text>
<text x="356.90" y="376.00" font-size="9.7" stroke="#231f20" stroke-width="0.18" textLength="117.70" lengthAdjust="spacingAndGlyphs">_CELL_AND_PROGENITOR</text>
<text x="301.80" y="418.50" font-size="9.7" stroke="#231f20" stroke-width="0.06" text-anchor="middle" textLength="27.90" lengthAdjust="spacingAndGlyphs" transform="rotate(-90 301.80 418.50)">Running</text>
<text x="313.80" y="418.50" font-size="9.7" stroke="#231f20" stroke-width="0.06" text-anchor="middle" textLength="55.80" lengthAdjust="spacingAndGlyphs" transform="rotate(-90 313.80 418.50)">enrichment score</text>
<text x="301.80" y="473.20" font-size="9.7" stroke="#231f20" stroke-width="0.06" text-anchor="middle" textLength="25.40" lengthAdjust="spacingAndGlyphs" transform="rotate(-90 301.80 473.20)">Ranked</text>
<text x="313.80" y="473.20" font-size="9.7" stroke="#231f20" stroke-width="0.06" text-anchor="middle" textLength="33.50" lengthAdjust="spacingAndGlyphs" transform="rotate(-90 313.80 473.20)">list metric</text>
<text x="363.10" y="416.00" font-size="7.2" stroke="#231f20" stroke-width="0.18" textLength="19.79" lengthAdjust="spacingAndGlyphs">FDR=0</text>
<text x="363.10" y="423.70" font-size="7.2" stroke="#231f20" stroke-width="0.18" textLength="37.55" lengthAdjust="spacingAndGlyphs">NES=−1.9729</text>
<polyline points="337.80,394.60 339.60,392.70 341.50,391.30 345.40,391.00 349.20,391.30 352.70,390.60 356.90,392.70 362.70,394.80 366.50,395.80 372.30,396.70 375.00,397.50 388.50,401.60 402.00,406.90 415.40,413.70 428.90,420.40 442.40,426.60 455.90,432.00 466.60,436.60 477.40,439.80 482.80,439.80 488.20,440.60 493.60,438.00 499.00,432.60 504.40,424.50 508.40,412.30 510.60,394.80" fill="none" stroke="#c5052d" stroke-width="1.45" stroke-linejoin="round"/>
<rect x="337.90" y="601.70" width="1.40" height="14.10" fill="#000"/>
<rect x="340.30" y="601.70" width="1.00" height="14.10" fill="#333"/>
<rect x="341.30" y="601.70" width="6.20" height="14.10" fill="url(#bcp)"/>
<rect x="348.00" y="601.70" width="5.30" height="14.10" fill="url(#bcp)"/>
<rect x="353.30" y="601.70" width="3.30" height="14.10" fill="#222"/>
<rect x="360.20" y="601.70" width="1.20" height="14.10" fill="#000"/>
<rect x="362.40" y="601.70" width="1.30" height="14.10" fill="#000"/>
<rect x="366.00" y="601.70" width="5.50" height="14.10" fill="url(#bcp)"/>
<rect x="371.50" y="601.70" width="2.90" height="14.10" fill="#555"/>
<rect x="374.40" y="601.70" width="1.90" height="14.10" fill="#000"/>
<rect x="377.80" y="601.70" width="3.20" height="14.10" fill="#000"/>
<rect x="383.80" y="601.70" width="8.00" height="14.10" fill="url(#bcp)"/>
<rect x="397.00" y="601.70" width="1.20" height="14.10" fill="#000"/>
<rect x="399.40" y="601.70" width="2.20" height="14.10" fill="#000"/>
<rect x="403.40" y="601.70" width="1.20" height="14.10" fill="#000"/>
<rect x="406.00" y="601.70" width="1.70" height="14.10" fill="#000"/>
<rect x="409.40" y="601.70" width="1.40" height="14.10" fill="#000"/>
<rect x="411.50" y="601.70" width="1.70" height="14.10" fill="#000"/>
<rect x="414.60" y="601.70" width="8.70" height="14.10" fill="url(#bcp)"/>
<rect x="424.10" y="601.70" width="3.50" height="14.10" fill="#555"/>
<rect x="435.00" y="601.70" width="2.10" height="14.10" fill="#000"/>
<rect x="438.00" y="601.70" width="1.70" height="14.10" fill="#000"/>
<rect x="440.90" y="601.70" width="4.80" height="14.10" fill="url(#bcp)"/>
<rect x="452.70" y="601.70" width="2.00" height="14.10" fill="#000"/>
<rect x="456.10" y="601.70" width="2.60" height="14.10" fill="#000"/>
<rect x="461.30" y="601.70" width="9.00" height="14.10" fill="url(#bcp)"/>
<rect x="471.70" y="601.70" width="6.30" height="14.10" fill="url(#bcp)"/>
<rect x="479.20" y="601.70" width="2.10" height="14.10" fill="#000"/>
<rect x="482.80" y="601.70" width="1.90" height="14.10" fill="#000"/>
<rect x="486.20" y="601.70" width="24.50" height="14.10" fill="url(#bcp)"/>
<rect x="343.60" y="601.70" width="0.8" height="14.10" fill="#666"/>
<rect x="345.60" y="601.70" width="0.8" height="14.10" fill="#777"/>
<rect x="466.60" y="601.70" width="0.8" height="14.10" fill="#666"/>
<rect x="475.60" y="601.70" width="0.8" height="14.10" fill="#777"/>
<rect x="490.60" y="601.70" width="0.8" height="14.10" fill="#666"/>
<rect x="497.60" y="601.70" width="0.8" height="14.10" fill="#777"/>
<rect x="387.60" y="601.70" width="0.8" height="14.10" fill="#555"/>
<rect x="337.70" y="615.80" width="5.35" height="6.50" fill="#d42d22"/>
<rect x="343.00" y="615.80" width="9.05" height="6.50" fill="#ec5f3f"/>
<rect x="352.00" y="615.80" width="6.05" height="6.50" fill="#f2a88e"/>
<rect x="358.00" y="615.80" width="27.05" height="6.50" fill="#fbdccd"/>
<rect x="385.00" y="615.80" width="43.05" height="6.50" fill="#e3e6f4"/>
<rect x="428.00" y="615.80" width="32.05" height="6.50" fill="#b9d3e3"/>
<rect x="460.00" y="615.80" width="32.05" height="6.50" fill="#62a5d7"/>
<rect x="492.00" y="615.80" width="19.05" height="6.50" fill="#2b78bc"/>
<rect x="345.70" y="615.80" width="165.30" height="6.50" fill="url(#cbs)"/>
<path d="M338.20 634.70 L338.20 630.10 C341.70 632.60 345.70 632.90 357.70 633.30 L481.00 634.30 C499.00 635.00 508.00 636.20 509.80 638.20 L510.40 640.80 L510.80 640.80 L510.80 634.70 Z" fill="#c8c8c8"/>
<path d="M337.70 634.70 H511.00" stroke="#c4c4c4" stroke-width="0.6"/>
<path d="M337.70 546.50 V642.30 H511.00" fill="none" stroke="#000" stroke-width="1.1"/>
<path d="M334.90 554.20 H337.70" stroke="#000" stroke-width="1"/>
<text x="331.80" y="556.70" font-size="7.4" stroke="#231f20" stroke-width="0.18" text-anchor="end" textLength="8.60" lengthAdjust="spacingAndGlyphs">0.0</text>
<path d="M334.90 571.00 H337.70" stroke="#000" stroke-width="1"/>
<text x="331.80" y="573.50" font-size="7.4" stroke="#231f20" stroke-width="0.18" text-anchor="end" textLength="11.50" lengthAdjust="spacingAndGlyphs">−0.2</text>
<path d="M334.90 587.60 H337.70" stroke="#000" stroke-width="1"/>
<text x="331.80" y="590.10" font-size="7.4" stroke="#231f20" stroke-width="0.18" text-anchor="end" textLength="11.50" lengthAdjust="spacingAndGlyphs">−0.4</text>
<path d="M335.10 624.60 H337.70" stroke="#000" stroke-width="0.9"/>
<path d="M335.10 629.60 H337.70" stroke="#000" stroke-width="0.9"/>
<path d="M335.10 634.70 H337.70" stroke="#000" stroke-width="0.9"/>
<path d="M335.10 640.00 H337.70" stroke="#000" stroke-width="0.9"/>
<text x="331.80" y="627.00" font-size="7.2" stroke="#231f20" stroke-width="0.18" text-anchor="end" textLength="6.90" lengthAdjust="spacingAndGlyphs">20</text>
<text x="331.80" y="632.00" font-size="7.2" stroke="#231f20" stroke-width="0.18" text-anchor="end" textLength="6.90" lengthAdjust="spacingAndGlyphs">10</text>
<text x="331.80" y="637.10" font-size="7.2" stroke="#231f20" stroke-width="0.18" text-anchor="end" textLength="3.40" lengthAdjust="spacingAndGlyphs">0</text>
<text x="331.80" y="642.40" font-size="7.2" stroke="#231f20" stroke-width="0.18" text-anchor="end" textLength="10.30" lengthAdjust="spacingAndGlyphs">−10</text>
<path d="M387.25 642.30 V645.30" stroke="#000" stroke-width="1"/>
<text x="387.25" y="652.70" font-size="7.3" stroke="#231f20" stroke-width="0.18" text-anchor="middle" textLength="14.00" lengthAdjust="spacingAndGlyphs">5000</text>
<path d="M436.75 642.30 V645.30" stroke="#000" stroke-width="1"/>
<text x="436.75" y="652.70" font-size="7.3" stroke="#231f20" stroke-width="0.18" text-anchor="middle" textLength="17.20" lengthAdjust="spacingAndGlyphs">10000</text>
<path d="M486.25 642.30 V645.30" stroke="#000" stroke-width="1"/>
<text x="486.25" y="652.70" font-size="7.3" stroke="#231f20" stroke-width="0.18" text-anchor="middle" textLength="17.20" lengthAdjust="spacingAndGlyphs">15000</text>
<text x="338.00" y="652.70" font-size="7.8" stroke="#111" stroke-width="0.12" font-weight="bold" fill="#111" textLength="30.00" lengthAdjust="spacingAndGlyphs">J<tspan dy="-3.0" font-size="4.6">VF</tspan><tspan dy="1.3">p</tspan><tspan dy="-1.3" font-size="4.6">172/−</tspan></text>
<text x="512.50" y="652.70" font-size="7.8" stroke="#c5052d" stroke-width="0.12" font-weight="bold" text-anchor="end" fill="#c5052d" textLength="10.00" lengthAdjust="spacingAndGlyphs">J<tspan dy="-3.0" font-size="4.6">VF</tspan></text>
<text x="386.60" y="666.40" font-size="9.6" stroke="#231f20" stroke-width="0.18" textLength="79.20" lengthAdjust="spacingAndGlyphs">Rank in ordered dataset</text>
<text x="363.10" y="529.70" font-size="9.7" stroke="#231f20" stroke-width="0.18" textLength="125.90" lengthAdjust="spacingAndGlyphs">JAATINEN_HEMATOPOIETIC</text>
<text x="388.70" y="540.20" font-size="9.7" stroke="#231f20" stroke-width="0.18" textLength="70.10" lengthAdjust="spacingAndGlyphs">_STEM_CELL_DN</text>
<text x="301.80" y="578.50" font-size="9.7" stroke="#231f20" stroke-width="0.06" text-anchor="middle" textLength="27.90" lengthAdjust="spacingAndGlyphs" transform="rotate(-90 301.80 578.50)">Running</text>
<text x="313.80" y="578.50" font-size="9.7" stroke="#231f20" stroke-width="0.06" text-anchor="middle" textLength="55.80" lengthAdjust="spacingAndGlyphs" transform="rotate(-90 313.80 578.50)">enrichment score</text>
<text x="301.80" y="631.50" font-size="9.7" stroke="#231f20" stroke-width="0.06" text-anchor="middle" textLength="25.40" lengthAdjust="spacingAndGlyphs" transform="rotate(-90 301.80 631.50)">Ranked</text>
<text x="313.80" y="631.50" font-size="9.7" stroke="#231f20" stroke-width="0.06" text-anchor="middle" textLength="33.50" lengthAdjust="spacingAndGlyphs" transform="rotate(-90 313.80 631.50)">list metric</text>
<text x="363.10" y="575.40" font-size="7.2" stroke="#231f20" stroke-width="0.18" textLength="19.79" lengthAdjust="spacingAndGlyphs">FDR=0</text>
<text x="363.10" y="582.70" font-size="7.2" stroke="#231f20" stroke-width="0.18" textLength="37.55" lengthAdjust="spacingAndGlyphs">NES=−2.0632</text>
<polyline points="337.80,554.60 339.60,552.70 342.50,550.00 345.40,549.80 348.30,550.40 351.20,549.00 354.00,549.40 356.50,549.00 358.80,550.40 362.70,550.80 368.50,552.70 374.20,554.60 380.00,557.10 388.50,561.00 402.00,567.00 415.40,573.70 428.90,580.40 442.40,586.40 455.90,591.20 469.30,594.70 478.80,597.10 484.20,598.80 488.20,598.00 492.20,595.30 496.30,590.70 500.30,589.90 504.40,580.40 507.60,569.60 510.30,553.50" fill="none" stroke="#c5052d" stroke-width="1.45" stroke-linejoin="round"/></svg></body></html>
